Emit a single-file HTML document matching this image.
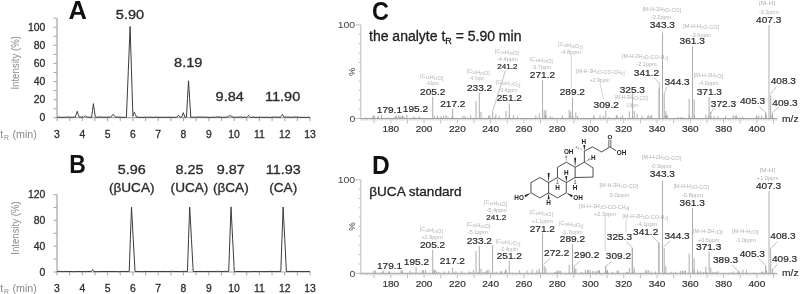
<!DOCTYPE html>
<html><head><meta charset="utf-8"><style>
html,body{margin:0;padding:0;background:#fff;}
body{width:800px;height:294px;overflow:hidden;}
svg{display:block;font-family:"Liberation Sans", sans-serif;filter:blur(0.5px);}
</style></head><body>
<svg width="800" height="294" viewBox="0 0 800 294">
<rect width="800" height="294" fill="#fff"/>
<text x="77.60" y="19.30" font-size="25.5" fill="#111" text-anchor="middle" font-weight="bold">A</text>
<line x1="57.00" y1="18.15" x2="57.00" y2="117.70" stroke="#ababab" stroke-width="1.3"/>
<line x1="53.50" y1="117.70" x2="57.00" y2="117.70" stroke="#ababab" stroke-width="1.1"/>
<line x1="53.50" y1="108.65" x2="57.00" y2="108.65" stroke="#ababab" stroke-width="1.1"/>
<line x1="53.50" y1="99.60" x2="57.00" y2="99.60" stroke="#ababab" stroke-width="1.1"/>
<line x1="53.50" y1="90.55" x2="57.00" y2="90.55" stroke="#ababab" stroke-width="1.1"/>
<line x1="53.50" y1="81.50" x2="57.00" y2="81.50" stroke="#ababab" stroke-width="1.1"/>
<line x1="53.50" y1="72.45" x2="57.00" y2="72.45" stroke="#ababab" stroke-width="1.1"/>
<line x1="53.50" y1="63.40" x2="57.00" y2="63.40" stroke="#ababab" stroke-width="1.1"/>
<line x1="53.50" y1="54.35" x2="57.00" y2="54.35" stroke="#ababab" stroke-width="1.1"/>
<line x1="53.50" y1="45.30" x2="57.00" y2="45.30" stroke="#ababab" stroke-width="1.1"/>
<line x1="53.50" y1="36.25" x2="57.00" y2="36.25" stroke="#ababab" stroke-width="1.1"/>
<line x1="53.50" y1="27.20" x2="57.00" y2="27.20" stroke="#ababab" stroke-width="1.1"/>
<line x1="53.50" y1="18.15" x2="57.00" y2="18.15" stroke="#ababab" stroke-width="1.1"/>
<text x="45.30" y="121.40" font-size="10.4" fill="#2e2e2e" text-anchor="end" stroke="#2e2e2e" stroke-width="0.3">0</text>
<text x="45.30" y="103.30" font-size="10.4" fill="#2e2e2e" text-anchor="end" stroke="#2e2e2e" stroke-width="0.3">20</text>
<text x="45.30" y="85.20" font-size="10.4" fill="#2e2e2e" text-anchor="end" stroke="#2e2e2e" stroke-width="0.3">40</text>
<text x="45.30" y="67.10" font-size="10.4" fill="#2e2e2e" text-anchor="end" stroke="#2e2e2e" stroke-width="0.3">60</text>
<text x="45.30" y="49.00" font-size="10.4" fill="#2e2e2e" text-anchor="end" stroke="#2e2e2e" stroke-width="0.3">80</text>
<text x="45.30" y="30.90" font-size="10.4" fill="#2e2e2e" text-anchor="end" stroke="#2e2e2e" stroke-width="0.3">100</text>
<line x1="57.00" y1="117.70" x2="310.50" y2="117.70" stroke="#ababab" stroke-width="1.2"/>
<line x1="57.00" y1="117.70" x2="57.00" y2="121.00" stroke="#ababab" stroke-width="1.1"/>
<line x1="69.65" y1="117.70" x2="69.65" y2="121.00" stroke="#ababab" stroke-width="1.1"/>
<line x1="82.30" y1="117.70" x2="82.30" y2="121.00" stroke="#ababab" stroke-width="1.1"/>
<line x1="94.95" y1="117.70" x2="94.95" y2="121.00" stroke="#ababab" stroke-width="1.1"/>
<line x1="107.60" y1="117.70" x2="107.60" y2="121.00" stroke="#ababab" stroke-width="1.1"/>
<line x1="120.25" y1="117.70" x2="120.25" y2="121.00" stroke="#ababab" stroke-width="1.1"/>
<line x1="132.90" y1="117.70" x2="132.90" y2="121.00" stroke="#ababab" stroke-width="1.1"/>
<line x1="145.55" y1="117.70" x2="145.55" y2="121.00" stroke="#ababab" stroke-width="1.1"/>
<line x1="158.20" y1="117.70" x2="158.20" y2="121.00" stroke="#ababab" stroke-width="1.1"/>
<line x1="170.85" y1="117.70" x2="170.85" y2="121.00" stroke="#ababab" stroke-width="1.1"/>
<line x1="183.50" y1="117.70" x2="183.50" y2="121.00" stroke="#ababab" stroke-width="1.1"/>
<line x1="196.15" y1="117.70" x2="196.15" y2="121.00" stroke="#ababab" stroke-width="1.1"/>
<line x1="208.80" y1="117.70" x2="208.80" y2="121.00" stroke="#ababab" stroke-width="1.1"/>
<line x1="221.45" y1="117.70" x2="221.45" y2="121.00" stroke="#ababab" stroke-width="1.1"/>
<line x1="234.10" y1="117.70" x2="234.10" y2="121.00" stroke="#ababab" stroke-width="1.1"/>
<line x1="246.75" y1="117.70" x2="246.75" y2="121.00" stroke="#ababab" stroke-width="1.1"/>
<line x1="259.40" y1="117.70" x2="259.40" y2="121.00" stroke="#ababab" stroke-width="1.1"/>
<line x1="272.05" y1="117.70" x2="272.05" y2="121.00" stroke="#ababab" stroke-width="1.1"/>
<line x1="284.70" y1="117.70" x2="284.70" y2="121.00" stroke="#ababab" stroke-width="1.1"/>
<line x1="297.35" y1="117.70" x2="297.35" y2="121.00" stroke="#ababab" stroke-width="1.1"/>
<line x1="310.00" y1="117.70" x2="310.00" y2="121.00" stroke="#ababab" stroke-width="1.1"/>
<text x="57.00" y="137.50" font-size="10.4" fill="#2e2e2e" text-anchor="middle" stroke="#2e2e2e" stroke-width="0.3">3</text>
<text x="82.30" y="137.50" font-size="10.4" fill="#2e2e2e" text-anchor="middle" stroke="#2e2e2e" stroke-width="0.3">4</text>
<text x="107.60" y="137.50" font-size="10.4" fill="#2e2e2e" text-anchor="middle" stroke="#2e2e2e" stroke-width="0.3">5</text>
<text x="132.90" y="137.50" font-size="10.4" fill="#2e2e2e" text-anchor="middle" stroke="#2e2e2e" stroke-width="0.3">6</text>
<text x="158.20" y="137.50" font-size="10.4" fill="#2e2e2e" text-anchor="middle" stroke="#2e2e2e" stroke-width="0.3">7</text>
<text x="183.50" y="137.50" font-size="10.4" fill="#2e2e2e" text-anchor="middle" stroke="#2e2e2e" stroke-width="0.3">8</text>
<text x="208.80" y="137.50" font-size="10.4" fill="#2e2e2e" text-anchor="middle" stroke="#2e2e2e" stroke-width="0.3">9</text>
<text x="234.10" y="137.50" font-size="10.4" fill="#2e2e2e" text-anchor="middle" stroke="#2e2e2e" stroke-width="0.3">10</text>
<text x="259.40" y="137.50" font-size="10.4" fill="#2e2e2e" text-anchor="middle" stroke="#2e2e2e" stroke-width="0.3">11</text>
<text x="284.70" y="137.50" font-size="10.4" fill="#2e2e2e" text-anchor="middle" stroke="#2e2e2e" stroke-width="0.3">12</text>
<text x="310.00" y="137.50" font-size="10.4" fill="#2e2e2e" text-anchor="middle" stroke="#2e2e2e" stroke-width="0.3">13</text>
<text transform="translate(18.5,89.60) rotate(-90)" font-size="10.8" fill="#8a8a8a" textLength="53.6" lengthAdjust="spacingAndGlyphs">Intensity (%)</text>
<text x="0.3" y="137.50" font-size="10.4" fill="#8a8a8a">t</text>
<text x="4.0" y="139.50" font-size="6.8" fill="#8a8a8a">R</text>
<text x="12.4" y="137.50" font-size="10.4" fill="#8a8a8a" textLength="24.4" lengthAdjust="spacingAndGlyphs">(min)</text>
<polyline points="57.00,117.34 58.00,117.18 59.00,117.27 60.00,117.14 61.00,117.13 62.00,117.44 63.00,117.46 64.00,117.02 65.00,117.33 66.00,117.34 67.00,116.93 68.00,117.22 69.00,117.02 70.00,117.21 71.00,117.12 72.00,117.39 73.00,117.13 74.00,117.00 75.00,117.19 75.24,117.07 76.00,114.87 76.24,114.50 77.00,111.88 77.24,111.27 78.00,113.66 78.24,114.51 79.00,116.30 79.24,117.21 80.00,117.08 81.00,116.99 82.00,117.08 83.00,116.97 83.34,117.25 84.00,116.59 84.34,116.55 85.00,115.83 85.34,115.64 86.00,116.51 86.34,116.72 87.00,117.13 87.34,116.95 88.00,117.23 89.00,117.13 90.00,117.31 91.00,117.20 91.60,117.26 92.00,114.30 92.50,110.46 93.00,106.74 93.40,103.59 94.00,107.94 94.35,110.27 95.00,114.89 95.30,116.93 96.00,117.11 97.00,117.38 98.00,117.00 99.00,116.95 100.00,116.98 101.00,117.16 102.00,117.08 103.00,117.36 104.00,117.02 105.00,117.16 106.00,117.32 107.00,117.44 108.00,117.01 109.00,116.93 110.00,117.42 110.67,117.03 111.00,116.89 111.92,116.03 112.00,115.86 113.00,114.52 113.17,114.29 114.00,115.64 114.42,115.78 115.00,116.72 115.67,117.08 116.00,117.29 117.00,116.99 118.00,116.94 119.00,117.20 120.00,116.93 121.00,117.30 122.00,117.43 123.00,117.15 124.00,117.45 125.00,117.36 126.00,117.25 126.40,117.14 127.00,102.71 128.00,78.31 128.25,71.75 129.00,53.71 130.00,28.90 130.10,26.48 131.00,55.86 131.50,71.97 132.00,88.10 132.60,107.43 132.90,116.32 133.00,116.06 133.50,114.65 134.00,113.09 134.40,112.22 135.00,113.62 135.50,114.59 136.00,115.98 136.60,117.31 137.00,116.94 138.00,117.19 139.00,117.17 140.00,117.47 141.00,117.25 142.00,117.16 143.00,117.46 144.00,117.14 145.00,117.13 146.00,117.44 147.00,117.13 148.00,117.22 149.00,117.10 150.00,117.28 151.00,117.09 152.00,117.07 153.00,117.46 154.00,117.44 155.00,117.10 156.00,116.95 157.00,117.34 158.00,117.22 159.00,117.15 160.00,117.30 161.00,117.27 162.00,117.30 163.00,117.27 164.00,117.15 165.00,117.31 166.00,117.27 167.00,117.05 168.00,117.46 169.00,117.16 170.00,117.07 171.00,117.30 172.00,117.35 173.00,117.04 174.00,117.34 175.00,117.37 176.00,117.24 176.44,117.09 177.00,116.91 177.44,116.39 178.00,115.88 178.44,115.21 179.00,115.93 179.44,116.10 180.00,116.98 180.44,117.29 181.00,117.12 181.70,116.99 182.00,116.38 182.50,115.09 183.00,113.73 183.30,112.66 184.00,114.82 184.10,114.77 184.90,117.02 185.00,117.37 186.00,117.32 186.50,117.03 187.00,107.96 187.50,98.71 188.00,89.79 188.50,80.75 189.00,88.63 189.65,98.71 190.00,104.58 190.80,117.28 191.00,117.25 192.00,117.24 193.00,117.25 194.00,116.97 195.00,117.39 196.00,117.47 197.00,116.96 198.00,116.99 199.00,116.94 200.00,117.24 201.00,116.96 202.00,116.97 203.00,117.35 204.00,117.07 205.00,117.02 206.00,117.11 207.00,117.19 208.00,117.31 209.00,117.29 210.00,117.35 211.00,117.43 212.00,117.15 213.00,117.32 214.00,117.03 215.00,117.45 216.00,116.98 217.00,117.09 218.00,116.97 219.00,116.98 220.00,116.98 221.00,117.16 222.00,117.46 223.00,117.07 224.00,117.38 225.00,117.31 226.00,117.11 227.00,117.19 228.00,116.70 228.50,116.15 229.00,116.05 230.00,115.66 231.00,116.25 231.50,116.19 232.00,116.67 233.00,117.05 234.00,117.28 235.00,117.36 236.00,117.18 237.00,117.03 238.00,117.38 239.00,117.04 240.00,116.97 241.00,117.03 242.00,117.02 243.00,117.47 244.00,117.13 245.00,117.00 246.00,117.44 246.70,117.32 247.00,117.08 247.70,116.37 248.00,116.18 248.70,115.59 249.00,115.67 249.70,116.66 250.00,116.87 250.70,117.40 251.00,117.40 252.00,117.43 253.00,116.94 254.00,117.01 255.00,117.42 256.00,117.20 257.00,117.30 258.00,117.30 259.00,117.28 260.00,117.12 261.00,117.15 262.00,117.28 263.00,117.37 264.00,117.29 265.00,117.40 266.00,117.17 267.00,117.08 268.00,117.27 269.00,117.43 270.00,117.37 271.00,117.27 272.00,117.14 273.00,117.05 274.00,117.27 275.00,117.04 276.00,117.13 277.00,117.24 278.00,117.27 279.00,117.20 280.00,117.09 280.60,117.24 281.00,116.45 281.50,115.77 282.00,115.09 282.40,114.28 283.00,115.16 283.30,115.98 284.00,116.92 284.20,117.24 285.00,116.99 286.00,116.96 287.00,117.27 288.00,116.98 289.00,117.04 290.00,117.33 291.00,117.22 292.00,117.40 293.00,117.03 294.00,117.11 295.00,116.99 296.00,117.04 297.00,117.11 298.00,117.07 299.00,117.17 300.00,117.42 301.00,117.15 302.00,117.47 303.00,117.39 304.00,117.05 305.00,117.45 306.00,117.42 307.00,117.42 308.00,116.99 309.00,117.37 310.00,117.46" fill="none" stroke="#3c3c3c" stroke-width="1.0" stroke-linejoin="round"/>
<text transform="translate(130.00,19.40) scale(1.070,1)" font-size="13.6" fill="#2e2e2e" text-anchor="middle" stroke="#2e2e2e" stroke-width="0.35">5.90</text>
<text transform="translate(188.20,66.80) scale(1.070,1)" font-size="13.6" fill="#2e2e2e" text-anchor="middle" stroke="#2e2e2e" stroke-width="0.35">8.19</text>
<text transform="translate(229.70,100.70) scale(1.070,1)" font-size="13.6" fill="#2e2e2e" text-anchor="middle" stroke="#2e2e2e" stroke-width="0.35">9.84</text>
<text transform="translate(282.60,100.70) scale(1.070,1)" font-size="13.6" fill="#2e2e2e" text-anchor="middle" stroke="#2e2e2e" stroke-width="0.35">11.90</text>
<text transform="translate(77.60,173.30) scale(0.900,1)" font-size="25.5" fill="#111" text-anchor="middle" font-weight="bold">B</text>
<line x1="57.00" y1="194.60" x2="57.00" y2="272.00" stroke="#ababab" stroke-width="1.3"/>
<line x1="53.50" y1="272.00" x2="57.00" y2="272.00" stroke="#ababab" stroke-width="1.1"/>
<line x1="53.50" y1="259.10" x2="57.00" y2="259.10" stroke="#ababab" stroke-width="1.1"/>
<line x1="53.50" y1="246.20" x2="57.00" y2="246.20" stroke="#ababab" stroke-width="1.1"/>
<line x1="53.50" y1="233.30" x2="57.00" y2="233.30" stroke="#ababab" stroke-width="1.1"/>
<line x1="53.50" y1="220.40" x2="57.00" y2="220.40" stroke="#ababab" stroke-width="1.1"/>
<line x1="53.50" y1="207.50" x2="57.00" y2="207.50" stroke="#ababab" stroke-width="1.1"/>
<line x1="53.50" y1="194.60" x2="57.00" y2="194.60" stroke="#ababab" stroke-width="1.1"/>
<text x="45.30" y="275.70" font-size="10.4" fill="#2e2e2e" text-anchor="end" stroke="#2e2e2e" stroke-width="0.3">0</text>
<text x="45.30" y="249.90" font-size="10.4" fill="#2e2e2e" text-anchor="end" stroke="#2e2e2e" stroke-width="0.3">40</text>
<text x="45.30" y="224.10" font-size="10.4" fill="#2e2e2e" text-anchor="end" stroke="#2e2e2e" stroke-width="0.3">80</text>
<text x="45.30" y="198.30" font-size="10.4" fill="#2e2e2e" text-anchor="end" stroke="#2e2e2e" stroke-width="0.3">120</text>
<line x1="57.00" y1="272.00" x2="310.50" y2="272.00" stroke="#ababab" stroke-width="1.2"/>
<line x1="57.00" y1="272.00" x2="57.00" y2="275.30" stroke="#ababab" stroke-width="1.1"/>
<line x1="69.65" y1="272.00" x2="69.65" y2="275.30" stroke="#ababab" stroke-width="1.1"/>
<line x1="82.30" y1="272.00" x2="82.30" y2="275.30" stroke="#ababab" stroke-width="1.1"/>
<line x1="94.95" y1="272.00" x2="94.95" y2="275.30" stroke="#ababab" stroke-width="1.1"/>
<line x1="107.60" y1="272.00" x2="107.60" y2="275.30" stroke="#ababab" stroke-width="1.1"/>
<line x1="120.25" y1="272.00" x2="120.25" y2="275.30" stroke="#ababab" stroke-width="1.1"/>
<line x1="132.90" y1="272.00" x2="132.90" y2="275.30" stroke="#ababab" stroke-width="1.1"/>
<line x1="145.55" y1="272.00" x2="145.55" y2="275.30" stroke="#ababab" stroke-width="1.1"/>
<line x1="158.20" y1="272.00" x2="158.20" y2="275.30" stroke="#ababab" stroke-width="1.1"/>
<line x1="170.85" y1="272.00" x2="170.85" y2="275.30" stroke="#ababab" stroke-width="1.1"/>
<line x1="183.50" y1="272.00" x2="183.50" y2="275.30" stroke="#ababab" stroke-width="1.1"/>
<line x1="196.15" y1="272.00" x2="196.15" y2="275.30" stroke="#ababab" stroke-width="1.1"/>
<line x1="208.80" y1="272.00" x2="208.80" y2="275.30" stroke="#ababab" stroke-width="1.1"/>
<line x1="221.45" y1="272.00" x2="221.45" y2="275.30" stroke="#ababab" stroke-width="1.1"/>
<line x1="234.10" y1="272.00" x2="234.10" y2="275.30" stroke="#ababab" stroke-width="1.1"/>
<line x1="246.75" y1="272.00" x2="246.75" y2="275.30" stroke="#ababab" stroke-width="1.1"/>
<line x1="259.40" y1="272.00" x2="259.40" y2="275.30" stroke="#ababab" stroke-width="1.1"/>
<line x1="272.05" y1="272.00" x2="272.05" y2="275.30" stroke="#ababab" stroke-width="1.1"/>
<line x1="284.70" y1="272.00" x2="284.70" y2="275.30" stroke="#ababab" stroke-width="1.1"/>
<line x1="297.35" y1="272.00" x2="297.35" y2="275.30" stroke="#ababab" stroke-width="1.1"/>
<line x1="310.00" y1="272.00" x2="310.00" y2="275.30" stroke="#ababab" stroke-width="1.1"/>
<text x="57.00" y="291.70" font-size="10.4" fill="#2e2e2e" text-anchor="middle" stroke="#2e2e2e" stroke-width="0.3">3</text>
<text x="82.30" y="291.70" font-size="10.4" fill="#2e2e2e" text-anchor="middle" stroke="#2e2e2e" stroke-width="0.3">4</text>
<text x="107.60" y="291.70" font-size="10.4" fill="#2e2e2e" text-anchor="middle" stroke="#2e2e2e" stroke-width="0.3">5</text>
<text x="132.90" y="291.70" font-size="10.4" fill="#2e2e2e" text-anchor="middle" stroke="#2e2e2e" stroke-width="0.3">6</text>
<text x="158.20" y="291.70" font-size="10.4" fill="#2e2e2e" text-anchor="middle" stroke="#2e2e2e" stroke-width="0.3">7</text>
<text x="183.50" y="291.70" font-size="10.4" fill="#2e2e2e" text-anchor="middle" stroke="#2e2e2e" stroke-width="0.3">8</text>
<text x="208.80" y="291.70" font-size="10.4" fill="#2e2e2e" text-anchor="middle" stroke="#2e2e2e" stroke-width="0.3">9</text>
<text x="234.10" y="291.70" font-size="10.4" fill="#2e2e2e" text-anchor="middle" stroke="#2e2e2e" stroke-width="0.3">10</text>
<text x="259.40" y="291.70" font-size="10.4" fill="#2e2e2e" text-anchor="middle" stroke="#2e2e2e" stroke-width="0.3">11</text>
<text x="284.70" y="291.70" font-size="10.4" fill="#2e2e2e" text-anchor="middle" stroke="#2e2e2e" stroke-width="0.3">12</text>
<text x="310.00" y="291.70" font-size="10.4" fill="#2e2e2e" text-anchor="middle" stroke="#2e2e2e" stroke-width="0.3">13</text>
<text transform="translate(18.5,254.80) rotate(-90)" font-size="10.8" fill="#8a8a8a" textLength="53.6" lengthAdjust="spacingAndGlyphs">Intensity (%)</text>
<text x="0.3" y="291.70" font-size="10.4" fill="#8a8a8a">t</text>
<text x="4.0" y="293.70" font-size="6.8" fill="#8a8a8a">R</text>
<text x="12.4" y="291.70" font-size="10.4" fill="#8a8a8a" textLength="24.4" lengthAdjust="spacingAndGlyphs">(min)</text>
<polyline points="57.00,271.45 58.00,271.41 59.00,271.39 60.00,271.33 61.00,271.41 62.00,271.34 63.00,271.68 64.00,271.51 65.00,271.33 66.00,271.44 67.00,271.34 68.00,271.65 69.00,271.51 70.00,271.60 71.00,271.48 72.00,271.47 73.00,271.69 74.00,271.61 75.00,271.59 76.00,271.34 77.00,271.40 78.00,271.63 79.00,271.39 80.00,271.64 81.00,271.45 82.00,271.64 83.00,271.69 84.00,271.36 85.00,271.61 86.00,271.61 87.00,271.31 88.00,271.36 89.00,271.58 90.00,271.32 91.00,271.48 91.50,271.43 92.00,270.81 92.10,270.36 92.70,269.49 93.00,269.87 93.30,270.38 93.90,271.58 94.00,271.55 95.00,271.63 96.00,271.64 97.00,271.67 98.00,271.58 99.00,271.46 100.00,271.69 101.00,271.43 102.00,271.56 103.00,271.57 104.00,271.38 105.00,271.51 106.00,271.57 107.00,271.51 108.00,271.42 109.00,271.67 110.00,271.32 111.00,271.68 112.00,271.40 113.00,271.37 114.00,271.69 115.00,271.39 116.00,271.55 117.00,271.47 118.00,271.69 119.00,271.68 120.00,271.62 121.00,271.32 122.00,271.62 123.00,271.40 124.00,271.33 125.00,271.33 126.00,271.56 127.00,271.56 128.00,271.49 129.00,271.39 129.20,271.65 130.00,248.97 130.35,239.13 131.00,220.88 131.50,207.18 132.00,216.04 133.00,234.80 133.25,239.31 134.00,253.03 135.00,271.34 136.00,271.56 137.00,271.34 138.00,271.48 139.00,271.57 140.00,271.57 141.00,271.62 142.00,271.66 143.00,271.64 144.00,271.43 145.00,271.31 146.00,271.63 147.00,271.67 148.00,271.31 149.00,271.49 150.00,271.54 151.00,271.60 152.00,271.46 153.00,271.37 154.00,271.52 155.00,271.53 156.00,271.67 157.00,271.34 158.00,271.68 159.00,271.50 160.00,271.37 161.00,271.64 162.00,271.41 163.00,271.33 164.00,271.45 165.00,271.39 166.00,271.65 167.00,271.53 168.00,271.64 169.00,271.37 170.00,271.58 171.00,271.52 172.00,271.31 173.00,271.36 174.00,271.32 175.00,271.52 176.00,271.50 177.00,271.41 178.00,271.51 179.00,271.58 180.00,271.54 181.00,271.64 182.00,271.55 183.00,271.31 184.00,271.32 185.00,271.45 186.00,271.50 187.00,271.56 187.40,271.66 188.00,254.76 188.55,239.14 189.00,226.49 189.70,207.05 190.00,212.42 191.00,230.85 191.45,239.17 192.00,249.32 193.00,267.71 193.20,271.55 194.00,271.42 195.00,271.58 196.00,271.51 197.00,271.40 198.00,271.43 199.00,271.58 200.00,271.33 201.00,271.44 202.00,271.47 203.00,271.69 204.00,271.48 205.00,271.60 206.00,271.43 207.00,271.51 208.00,271.38 209.00,271.44 210.00,271.38 211.00,271.56 212.00,271.44 213.00,271.41 214.00,271.37 215.00,271.56 216.00,271.37 217.00,271.36 218.00,271.43 219.00,271.32 220.00,271.32 221.00,271.49 222.00,271.49 223.00,271.63 224.00,271.37 225.00,271.33 226.00,271.51 227.00,271.43 228.00,271.41 228.70,271.41 229.00,263.21 229.85,239.14 230.00,235.01 231.00,206.94 232.00,226.58 232.65,239.20 233.00,245.98 234.00,265.58 234.30,271.41 235.00,271.68 236.00,271.63 237.00,271.52 238.00,271.44 239.00,271.61 240.00,271.43 241.00,271.45 242.00,271.68 243.00,271.51 244.00,271.61 245.00,271.67 246.00,271.64 247.00,271.57 248.00,271.62 249.00,271.62 250.00,271.68 251.00,271.51 252.00,271.55 253.00,271.46 254.00,271.47 255.00,271.60 256.00,271.34 257.00,271.69 258.00,271.54 259.00,271.59 260.00,271.53 261.00,271.65 262.00,271.37 263.00,271.55 264.00,271.68 265.00,271.46 266.00,271.66 267.00,271.48 268.00,271.56 269.00,271.47 270.00,271.32 271.00,271.38 272.00,271.53 273.00,271.38 274.00,271.44 275.00,271.55 276.00,271.64 277.00,271.46 278.00,271.48 279.00,271.32 280.00,271.32 280.80,271.46 281.00,265.95 281.95,239.10 282.00,238.04 283.00,209.96 283.10,206.97 284.00,224.55 284.75,239.39 285.00,244.09 286.00,263.53 286.40,271.55 287.00,271.53 288.00,271.61 289.00,271.58 290.00,271.32 291.00,271.55 292.00,271.32 293.00,271.34 294.00,271.46 295.00,271.59 296.00,271.31 297.00,271.50 298.00,271.53 299.00,271.57 300.00,271.31 301.00,271.50 302.00,271.58 303.00,271.51 304.00,271.65 305.00,271.45 306.00,271.52 307.00,271.58 308.00,271.39 309.00,271.37 310.00,271.69" fill="none" stroke="#3c3c3c" stroke-width="1.0" stroke-linejoin="round"/>
<text transform="translate(131.70,173.80) scale(1.060,1)" font-size="13.6" fill="#2e2e2e" text-anchor="middle" stroke="#2e2e2e" stroke-width="0.35">5.96</text>
<text x="131.70" y="192.00" font-size="13.6" fill="#2e2e2e" text-anchor="middle" stroke="#2e2e2e" stroke-width="0.35">(βUCA)</text>
<text transform="translate(189.50,173.80) scale(1.060,1)" font-size="13.6" fill="#2e2e2e" text-anchor="middle" stroke="#2e2e2e" stroke-width="0.35">8.25</text>
<text x="189.50" y="192.00" font-size="13.6" fill="#2e2e2e" text-anchor="middle" stroke="#2e2e2e" stroke-width="0.35">(UCA)</text>
<text transform="translate(230.80,173.80) scale(1.060,1)" font-size="13.6" fill="#2e2e2e" text-anchor="middle" stroke="#2e2e2e" stroke-width="0.35">9.87</text>
<text x="230.80" y="192.00" font-size="13.6" fill="#2e2e2e" text-anchor="middle" stroke="#2e2e2e" stroke-width="0.35">(βCA)</text>
<text transform="translate(283.20,173.80) scale(1.060,1)" font-size="13.6" fill="#2e2e2e" text-anchor="middle" stroke="#2e2e2e" stroke-width="0.35">11.93</text>
<text x="283.20" y="192.00" font-size="13.6" fill="#2e2e2e" text-anchor="middle" stroke="#2e2e2e" stroke-width="0.35">(CA)</text>
<text transform="translate(380.50,19.50) scale(0.880,1)" font-size="26.5" fill="#111" text-anchor="middle" font-weight="bold">C</text>
<line x1="360.80" y1="24.90" x2="360.80" y2="118.50" stroke="#bbbbbb" stroke-width="1.0"/>
<line x1="355.50" y1="118.50" x2="360.80" y2="118.50" stroke="#b4b4b4" stroke-width="0.9"/>
<line x1="358.80" y1="109.14" x2="360.80" y2="109.14" stroke="#b4b4b4" stroke-width="0.9"/>
<line x1="358.80" y1="99.78" x2="360.80" y2="99.78" stroke="#b4b4b4" stroke-width="0.9"/>
<line x1="358.80" y1="90.42" x2="360.80" y2="90.42" stroke="#b4b4b4" stroke-width="0.9"/>
<line x1="358.80" y1="81.06" x2="360.80" y2="81.06" stroke="#b4b4b4" stroke-width="0.9"/>
<line x1="358.80" y1="71.70" x2="360.80" y2="71.70" stroke="#b4b4b4" stroke-width="0.9"/>
<line x1="358.80" y1="62.34" x2="360.80" y2="62.34" stroke="#b4b4b4" stroke-width="0.9"/>
<line x1="358.80" y1="52.98" x2="360.80" y2="52.98" stroke="#b4b4b4" stroke-width="0.9"/>
<line x1="358.80" y1="43.62" x2="360.80" y2="43.62" stroke="#b4b4b4" stroke-width="0.9"/>
<line x1="358.80" y1="34.26" x2="360.80" y2="34.26" stroke="#b4b4b4" stroke-width="0.9"/>
<line x1="355.50" y1="24.90" x2="360.80" y2="24.90" stroke="#b4b4b4" stroke-width="0.9"/>
<text transform="translate(355.20,28.40) scale(1.080,1)" font-size="9.7" fill="#444" text-anchor="end">100</text>
<text transform="translate(355.30,122.00) scale(1.080,1)" font-size="9.7" fill="#444" text-anchor="end">0</text>
<text transform="translate(355.3,71.70) rotate(-90)" font-size="9.6" fill="#444" text-anchor="middle">%</text>
<line x1="360.80" y1="118.50" x2="777.00" y2="118.50" stroke="#9a9a9a" stroke-width="1.0"/>
<line x1="360.85" y1="118.50" x2="360.85" y2="120.50" stroke="#bcbcbc" stroke-width="0.75"/>
<line x1="362.51" y1="118.50" x2="362.51" y2="120.50" stroke="#bcbcbc" stroke-width="0.75"/>
<line x1="364.18" y1="118.50" x2="364.18" y2="120.50" stroke="#bcbcbc" stroke-width="0.75"/>
<line x1="365.84" y1="118.50" x2="365.84" y2="120.50" stroke="#bcbcbc" stroke-width="0.75"/>
<line x1="367.50" y1="118.50" x2="367.50" y2="120.50" stroke="#bcbcbc" stroke-width="0.75"/>
<line x1="369.17" y1="118.50" x2="369.17" y2="120.50" stroke="#bcbcbc" stroke-width="0.75"/>
<line x1="370.83" y1="118.50" x2="370.83" y2="120.50" stroke="#bcbcbc" stroke-width="0.75"/>
<line x1="372.50" y1="118.50" x2="372.50" y2="120.50" stroke="#bcbcbc" stroke-width="0.75"/>
<line x1="374.16" y1="118.50" x2="374.16" y2="123.30" stroke="#a8a8a8" stroke-width="0.75"/>
<line x1="375.82" y1="118.50" x2="375.82" y2="120.50" stroke="#bcbcbc" stroke-width="0.75"/>
<line x1="377.49" y1="118.50" x2="377.49" y2="120.50" stroke="#bcbcbc" stroke-width="0.75"/>
<line x1="379.15" y1="118.50" x2="379.15" y2="120.50" stroke="#bcbcbc" stroke-width="0.75"/>
<line x1="380.82" y1="118.50" x2="380.82" y2="120.50" stroke="#bcbcbc" stroke-width="0.75"/>
<line x1="382.48" y1="118.50" x2="382.48" y2="120.50" stroke="#bcbcbc" stroke-width="0.75"/>
<line x1="384.14" y1="118.50" x2="384.14" y2="120.50" stroke="#bcbcbc" stroke-width="0.75"/>
<line x1="385.81" y1="118.50" x2="385.81" y2="120.50" stroke="#bcbcbc" stroke-width="0.75"/>
<line x1="387.47" y1="118.50" x2="387.47" y2="120.50" stroke="#bcbcbc" stroke-width="0.75"/>
<line x1="389.14" y1="118.50" x2="389.14" y2="120.50" stroke="#bcbcbc" stroke-width="0.75"/>
<line x1="390.80" y1="118.50" x2="390.80" y2="123.30" stroke="#a8a8a8" stroke-width="0.75"/>
<line x1="392.46" y1="118.50" x2="392.46" y2="120.50" stroke="#bcbcbc" stroke-width="0.75"/>
<line x1="394.13" y1="118.50" x2="394.13" y2="120.50" stroke="#bcbcbc" stroke-width="0.75"/>
<line x1="395.79" y1="118.50" x2="395.79" y2="120.50" stroke="#bcbcbc" stroke-width="0.75"/>
<line x1="397.46" y1="118.50" x2="397.46" y2="120.50" stroke="#bcbcbc" stroke-width="0.75"/>
<line x1="399.12" y1="118.50" x2="399.12" y2="120.50" stroke="#bcbcbc" stroke-width="0.75"/>
<line x1="400.78" y1="118.50" x2="400.78" y2="120.50" stroke="#bcbcbc" stroke-width="0.75"/>
<line x1="402.45" y1="118.50" x2="402.45" y2="120.50" stroke="#bcbcbc" stroke-width="0.75"/>
<line x1="404.11" y1="118.50" x2="404.11" y2="120.50" stroke="#bcbcbc" stroke-width="0.75"/>
<line x1="405.78" y1="118.50" x2="405.78" y2="120.50" stroke="#bcbcbc" stroke-width="0.75"/>
<line x1="407.44" y1="118.50" x2="407.44" y2="123.30" stroke="#a8a8a8" stroke-width="0.75"/>
<line x1="409.10" y1="118.50" x2="409.10" y2="120.50" stroke="#bcbcbc" stroke-width="0.75"/>
<line x1="410.77" y1="118.50" x2="410.77" y2="120.50" stroke="#bcbcbc" stroke-width="0.75"/>
<line x1="412.43" y1="118.50" x2="412.43" y2="120.50" stroke="#bcbcbc" stroke-width="0.75"/>
<line x1="414.10" y1="118.50" x2="414.10" y2="120.50" stroke="#bcbcbc" stroke-width="0.75"/>
<line x1="415.76" y1="118.50" x2="415.76" y2="120.50" stroke="#bcbcbc" stroke-width="0.75"/>
<line x1="417.42" y1="118.50" x2="417.42" y2="120.50" stroke="#bcbcbc" stroke-width="0.75"/>
<line x1="419.09" y1="118.50" x2="419.09" y2="120.50" stroke="#bcbcbc" stroke-width="0.75"/>
<line x1="420.75" y1="118.50" x2="420.75" y2="120.50" stroke="#bcbcbc" stroke-width="0.75"/>
<line x1="422.42" y1="118.50" x2="422.42" y2="120.50" stroke="#bcbcbc" stroke-width="0.75"/>
<line x1="424.08" y1="118.50" x2="424.08" y2="123.30" stroke="#a8a8a8" stroke-width="0.75"/>
<line x1="425.74" y1="118.50" x2="425.74" y2="120.50" stroke="#bcbcbc" stroke-width="0.75"/>
<line x1="427.41" y1="118.50" x2="427.41" y2="120.50" stroke="#bcbcbc" stroke-width="0.75"/>
<line x1="429.07" y1="118.50" x2="429.07" y2="120.50" stroke="#bcbcbc" stroke-width="0.75"/>
<line x1="430.74" y1="118.50" x2="430.74" y2="120.50" stroke="#bcbcbc" stroke-width="0.75"/>
<line x1="432.40" y1="118.50" x2="432.40" y2="120.50" stroke="#bcbcbc" stroke-width="0.75"/>
<line x1="434.06" y1="118.50" x2="434.06" y2="120.50" stroke="#bcbcbc" stroke-width="0.75"/>
<line x1="435.73" y1="118.50" x2="435.73" y2="120.50" stroke="#bcbcbc" stroke-width="0.75"/>
<line x1="437.39" y1="118.50" x2="437.39" y2="120.50" stroke="#bcbcbc" stroke-width="0.75"/>
<line x1="439.06" y1="118.50" x2="439.06" y2="120.50" stroke="#bcbcbc" stroke-width="0.75"/>
<line x1="440.72" y1="118.50" x2="440.72" y2="123.30" stroke="#a8a8a8" stroke-width="0.75"/>
<line x1="442.38" y1="118.50" x2="442.38" y2="120.50" stroke="#bcbcbc" stroke-width="0.75"/>
<line x1="444.05" y1="118.50" x2="444.05" y2="120.50" stroke="#bcbcbc" stroke-width="0.75"/>
<line x1="445.71" y1="118.50" x2="445.71" y2="120.50" stroke="#bcbcbc" stroke-width="0.75"/>
<line x1="447.38" y1="118.50" x2="447.38" y2="120.50" stroke="#bcbcbc" stroke-width="0.75"/>
<line x1="449.04" y1="118.50" x2="449.04" y2="120.50" stroke="#bcbcbc" stroke-width="0.75"/>
<line x1="450.70" y1="118.50" x2="450.70" y2="120.50" stroke="#bcbcbc" stroke-width="0.75"/>
<line x1="452.37" y1="118.50" x2="452.37" y2="120.50" stroke="#bcbcbc" stroke-width="0.75"/>
<line x1="454.03" y1="118.50" x2="454.03" y2="120.50" stroke="#bcbcbc" stroke-width="0.75"/>
<line x1="455.70" y1="118.50" x2="455.70" y2="120.50" stroke="#bcbcbc" stroke-width="0.75"/>
<line x1="457.36" y1="118.50" x2="457.36" y2="123.30" stroke="#a8a8a8" stroke-width="0.75"/>
<line x1="459.02" y1="118.50" x2="459.02" y2="120.50" stroke="#bcbcbc" stroke-width="0.75"/>
<line x1="460.69" y1="118.50" x2="460.69" y2="120.50" stroke="#bcbcbc" stroke-width="0.75"/>
<line x1="462.35" y1="118.50" x2="462.35" y2="120.50" stroke="#bcbcbc" stroke-width="0.75"/>
<line x1="464.02" y1="118.50" x2="464.02" y2="120.50" stroke="#bcbcbc" stroke-width="0.75"/>
<line x1="465.68" y1="118.50" x2="465.68" y2="120.50" stroke="#bcbcbc" stroke-width="0.75"/>
<line x1="467.34" y1="118.50" x2="467.34" y2="120.50" stroke="#bcbcbc" stroke-width="0.75"/>
<line x1="469.01" y1="118.50" x2="469.01" y2="120.50" stroke="#bcbcbc" stroke-width="0.75"/>
<line x1="470.67" y1="118.50" x2="470.67" y2="120.50" stroke="#bcbcbc" stroke-width="0.75"/>
<line x1="472.34" y1="118.50" x2="472.34" y2="120.50" stroke="#bcbcbc" stroke-width="0.75"/>
<line x1="474.00" y1="118.50" x2="474.00" y2="123.30" stroke="#a8a8a8" stroke-width="0.75"/>
<line x1="475.66" y1="118.50" x2="475.66" y2="120.50" stroke="#bcbcbc" stroke-width="0.75"/>
<line x1="477.33" y1="118.50" x2="477.33" y2="120.50" stroke="#bcbcbc" stroke-width="0.75"/>
<line x1="478.99" y1="118.50" x2="478.99" y2="120.50" stroke="#bcbcbc" stroke-width="0.75"/>
<line x1="480.66" y1="118.50" x2="480.66" y2="120.50" stroke="#bcbcbc" stroke-width="0.75"/>
<line x1="482.32" y1="118.50" x2="482.32" y2="120.50" stroke="#bcbcbc" stroke-width="0.75"/>
<line x1="483.98" y1="118.50" x2="483.98" y2="120.50" stroke="#bcbcbc" stroke-width="0.75"/>
<line x1="485.65" y1="118.50" x2="485.65" y2="120.50" stroke="#bcbcbc" stroke-width="0.75"/>
<line x1="487.31" y1="118.50" x2="487.31" y2="120.50" stroke="#bcbcbc" stroke-width="0.75"/>
<line x1="488.98" y1="118.50" x2="488.98" y2="120.50" stroke="#bcbcbc" stroke-width="0.75"/>
<line x1="490.64" y1="118.50" x2="490.64" y2="123.30" stroke="#a8a8a8" stroke-width="0.75"/>
<line x1="492.30" y1="118.50" x2="492.30" y2="120.50" stroke="#bcbcbc" stroke-width="0.75"/>
<line x1="493.97" y1="118.50" x2="493.97" y2="120.50" stroke="#bcbcbc" stroke-width="0.75"/>
<line x1="495.63" y1="118.50" x2="495.63" y2="120.50" stroke="#bcbcbc" stroke-width="0.75"/>
<line x1="497.30" y1="118.50" x2="497.30" y2="120.50" stroke="#bcbcbc" stroke-width="0.75"/>
<line x1="498.96" y1="118.50" x2="498.96" y2="120.50" stroke="#bcbcbc" stroke-width="0.75"/>
<line x1="500.62" y1="118.50" x2="500.62" y2="120.50" stroke="#bcbcbc" stroke-width="0.75"/>
<line x1="502.29" y1="118.50" x2="502.29" y2="120.50" stroke="#bcbcbc" stroke-width="0.75"/>
<line x1="503.95" y1="118.50" x2="503.95" y2="120.50" stroke="#bcbcbc" stroke-width="0.75"/>
<line x1="505.62" y1="118.50" x2="505.62" y2="120.50" stroke="#bcbcbc" stroke-width="0.75"/>
<line x1="507.28" y1="118.50" x2="507.28" y2="123.30" stroke="#a8a8a8" stroke-width="0.75"/>
<line x1="508.94" y1="118.50" x2="508.94" y2="120.50" stroke="#bcbcbc" stroke-width="0.75"/>
<line x1="510.61" y1="118.50" x2="510.61" y2="120.50" stroke="#bcbcbc" stroke-width="0.75"/>
<line x1="512.27" y1="118.50" x2="512.27" y2="120.50" stroke="#bcbcbc" stroke-width="0.75"/>
<line x1="513.94" y1="118.50" x2="513.94" y2="120.50" stroke="#bcbcbc" stroke-width="0.75"/>
<line x1="515.60" y1="118.50" x2="515.60" y2="120.50" stroke="#bcbcbc" stroke-width="0.75"/>
<line x1="517.26" y1="118.50" x2="517.26" y2="120.50" stroke="#bcbcbc" stroke-width="0.75"/>
<line x1="518.93" y1="118.50" x2="518.93" y2="120.50" stroke="#bcbcbc" stroke-width="0.75"/>
<line x1="520.59" y1="118.50" x2="520.59" y2="120.50" stroke="#bcbcbc" stroke-width="0.75"/>
<line x1="522.26" y1="118.50" x2="522.26" y2="120.50" stroke="#bcbcbc" stroke-width="0.75"/>
<line x1="523.92" y1="118.50" x2="523.92" y2="123.30" stroke="#a8a8a8" stroke-width="0.75"/>
<line x1="525.58" y1="118.50" x2="525.58" y2="120.50" stroke="#bcbcbc" stroke-width="0.75"/>
<line x1="527.25" y1="118.50" x2="527.25" y2="120.50" stroke="#bcbcbc" stroke-width="0.75"/>
<line x1="528.91" y1="118.50" x2="528.91" y2="120.50" stroke="#bcbcbc" stroke-width="0.75"/>
<line x1="530.58" y1="118.50" x2="530.58" y2="120.50" stroke="#bcbcbc" stroke-width="0.75"/>
<line x1="532.24" y1="118.50" x2="532.24" y2="120.50" stroke="#bcbcbc" stroke-width="0.75"/>
<line x1="533.90" y1="118.50" x2="533.90" y2="120.50" stroke="#bcbcbc" stroke-width="0.75"/>
<line x1="535.57" y1="118.50" x2="535.57" y2="120.50" stroke="#bcbcbc" stroke-width="0.75"/>
<line x1="537.23" y1="118.50" x2="537.23" y2="120.50" stroke="#bcbcbc" stroke-width="0.75"/>
<line x1="538.90" y1="118.50" x2="538.90" y2="120.50" stroke="#bcbcbc" stroke-width="0.75"/>
<line x1="540.56" y1="118.50" x2="540.56" y2="123.30" stroke="#a8a8a8" stroke-width="0.75"/>
<line x1="542.22" y1="118.50" x2="542.22" y2="120.50" stroke="#bcbcbc" stroke-width="0.75"/>
<line x1="543.89" y1="118.50" x2="543.89" y2="120.50" stroke="#bcbcbc" stroke-width="0.75"/>
<line x1="545.55" y1="118.50" x2="545.55" y2="120.50" stroke="#bcbcbc" stroke-width="0.75"/>
<line x1="547.22" y1="118.50" x2="547.22" y2="120.50" stroke="#bcbcbc" stroke-width="0.75"/>
<line x1="548.88" y1="118.50" x2="548.88" y2="120.50" stroke="#bcbcbc" stroke-width="0.75"/>
<line x1="550.54" y1="118.50" x2="550.54" y2="120.50" stroke="#bcbcbc" stroke-width="0.75"/>
<line x1="552.21" y1="118.50" x2="552.21" y2="120.50" stroke="#bcbcbc" stroke-width="0.75"/>
<line x1="553.87" y1="118.50" x2="553.87" y2="120.50" stroke="#bcbcbc" stroke-width="0.75"/>
<line x1="555.54" y1="118.50" x2="555.54" y2="120.50" stroke="#bcbcbc" stroke-width="0.75"/>
<line x1="557.20" y1="118.50" x2="557.20" y2="123.30" stroke="#a8a8a8" stroke-width="0.75"/>
<line x1="558.86" y1="118.50" x2="558.86" y2="120.50" stroke="#bcbcbc" stroke-width="0.75"/>
<line x1="560.53" y1="118.50" x2="560.53" y2="120.50" stroke="#bcbcbc" stroke-width="0.75"/>
<line x1="562.19" y1="118.50" x2="562.19" y2="120.50" stroke="#bcbcbc" stroke-width="0.75"/>
<line x1="563.86" y1="118.50" x2="563.86" y2="120.50" stroke="#bcbcbc" stroke-width="0.75"/>
<line x1="565.52" y1="118.50" x2="565.52" y2="120.50" stroke="#bcbcbc" stroke-width="0.75"/>
<line x1="567.18" y1="118.50" x2="567.18" y2="120.50" stroke="#bcbcbc" stroke-width="0.75"/>
<line x1="568.85" y1="118.50" x2="568.85" y2="120.50" stroke="#bcbcbc" stroke-width="0.75"/>
<line x1="570.51" y1="118.50" x2="570.51" y2="120.50" stroke="#bcbcbc" stroke-width="0.75"/>
<line x1="572.18" y1="118.50" x2="572.18" y2="120.50" stroke="#bcbcbc" stroke-width="0.75"/>
<line x1="573.84" y1="118.50" x2="573.84" y2="123.30" stroke="#a8a8a8" stroke-width="0.75"/>
<line x1="575.50" y1="118.50" x2="575.50" y2="120.50" stroke="#bcbcbc" stroke-width="0.75"/>
<line x1="577.17" y1="118.50" x2="577.17" y2="120.50" stroke="#bcbcbc" stroke-width="0.75"/>
<line x1="578.83" y1="118.50" x2="578.83" y2="120.50" stroke="#bcbcbc" stroke-width="0.75"/>
<line x1="580.50" y1="118.50" x2="580.50" y2="120.50" stroke="#bcbcbc" stroke-width="0.75"/>
<line x1="582.16" y1="118.50" x2="582.16" y2="120.50" stroke="#bcbcbc" stroke-width="0.75"/>
<line x1="583.82" y1="118.50" x2="583.82" y2="120.50" stroke="#bcbcbc" stroke-width="0.75"/>
<line x1="585.49" y1="118.50" x2="585.49" y2="120.50" stroke="#bcbcbc" stroke-width="0.75"/>
<line x1="587.15" y1="118.50" x2="587.15" y2="120.50" stroke="#bcbcbc" stroke-width="0.75"/>
<line x1="588.82" y1="118.50" x2="588.82" y2="120.50" stroke="#bcbcbc" stroke-width="0.75"/>
<line x1="590.48" y1="118.50" x2="590.48" y2="123.30" stroke="#a8a8a8" stroke-width="0.75"/>
<line x1="592.14" y1="118.50" x2="592.14" y2="120.50" stroke="#bcbcbc" stroke-width="0.75"/>
<line x1="593.81" y1="118.50" x2="593.81" y2="120.50" stroke="#bcbcbc" stroke-width="0.75"/>
<line x1="595.47" y1="118.50" x2="595.47" y2="120.50" stroke="#bcbcbc" stroke-width="0.75"/>
<line x1="597.14" y1="118.50" x2="597.14" y2="120.50" stroke="#bcbcbc" stroke-width="0.75"/>
<line x1="598.80" y1="118.50" x2="598.80" y2="120.50" stroke="#bcbcbc" stroke-width="0.75"/>
<line x1="600.46" y1="118.50" x2="600.46" y2="120.50" stroke="#bcbcbc" stroke-width="0.75"/>
<line x1="602.13" y1="118.50" x2="602.13" y2="120.50" stroke="#bcbcbc" stroke-width="0.75"/>
<line x1="603.79" y1="118.50" x2="603.79" y2="120.50" stroke="#bcbcbc" stroke-width="0.75"/>
<line x1="605.46" y1="118.50" x2="605.46" y2="120.50" stroke="#bcbcbc" stroke-width="0.75"/>
<line x1="607.12" y1="118.50" x2="607.12" y2="123.30" stroke="#a8a8a8" stroke-width="0.75"/>
<line x1="608.78" y1="118.50" x2="608.78" y2="120.50" stroke="#bcbcbc" stroke-width="0.75"/>
<line x1="610.45" y1="118.50" x2="610.45" y2="120.50" stroke="#bcbcbc" stroke-width="0.75"/>
<line x1="612.11" y1="118.50" x2="612.11" y2="120.50" stroke="#bcbcbc" stroke-width="0.75"/>
<line x1="613.78" y1="118.50" x2="613.78" y2="120.50" stroke="#bcbcbc" stroke-width="0.75"/>
<line x1="615.44" y1="118.50" x2="615.44" y2="120.50" stroke="#bcbcbc" stroke-width="0.75"/>
<line x1="617.10" y1="118.50" x2="617.10" y2="120.50" stroke="#bcbcbc" stroke-width="0.75"/>
<line x1="618.77" y1="118.50" x2="618.77" y2="120.50" stroke="#bcbcbc" stroke-width="0.75"/>
<line x1="620.43" y1="118.50" x2="620.43" y2="120.50" stroke="#bcbcbc" stroke-width="0.75"/>
<line x1="622.10" y1="118.50" x2="622.10" y2="120.50" stroke="#bcbcbc" stroke-width="0.75"/>
<line x1="623.76" y1="118.50" x2="623.76" y2="123.30" stroke="#a8a8a8" stroke-width="0.75"/>
<line x1="625.42" y1="118.50" x2="625.42" y2="120.50" stroke="#bcbcbc" stroke-width="0.75"/>
<line x1="627.09" y1="118.50" x2="627.09" y2="120.50" stroke="#bcbcbc" stroke-width="0.75"/>
<line x1="628.75" y1="118.50" x2="628.75" y2="120.50" stroke="#bcbcbc" stroke-width="0.75"/>
<line x1="630.42" y1="118.50" x2="630.42" y2="120.50" stroke="#bcbcbc" stroke-width="0.75"/>
<line x1="632.08" y1="118.50" x2="632.08" y2="120.50" stroke="#bcbcbc" stroke-width="0.75"/>
<line x1="633.74" y1="118.50" x2="633.74" y2="120.50" stroke="#bcbcbc" stroke-width="0.75"/>
<line x1="635.41" y1="118.50" x2="635.41" y2="120.50" stroke="#bcbcbc" stroke-width="0.75"/>
<line x1="637.07" y1="118.50" x2="637.07" y2="120.50" stroke="#bcbcbc" stroke-width="0.75"/>
<line x1="638.74" y1="118.50" x2="638.74" y2="120.50" stroke="#bcbcbc" stroke-width="0.75"/>
<line x1="640.40" y1="118.50" x2="640.40" y2="123.30" stroke="#a8a8a8" stroke-width="0.75"/>
<line x1="642.06" y1="118.50" x2="642.06" y2="120.50" stroke="#bcbcbc" stroke-width="0.75"/>
<line x1="643.73" y1="118.50" x2="643.73" y2="120.50" stroke="#bcbcbc" stroke-width="0.75"/>
<line x1="645.39" y1="118.50" x2="645.39" y2="120.50" stroke="#bcbcbc" stroke-width="0.75"/>
<line x1="647.06" y1="118.50" x2="647.06" y2="120.50" stroke="#bcbcbc" stroke-width="0.75"/>
<line x1="648.72" y1="118.50" x2="648.72" y2="120.50" stroke="#bcbcbc" stroke-width="0.75"/>
<line x1="650.38" y1="118.50" x2="650.38" y2="120.50" stroke="#bcbcbc" stroke-width="0.75"/>
<line x1="652.05" y1="118.50" x2="652.05" y2="120.50" stroke="#bcbcbc" stroke-width="0.75"/>
<line x1="653.71" y1="118.50" x2="653.71" y2="120.50" stroke="#bcbcbc" stroke-width="0.75"/>
<line x1="655.38" y1="118.50" x2="655.38" y2="120.50" stroke="#bcbcbc" stroke-width="0.75"/>
<line x1="657.04" y1="118.50" x2="657.04" y2="123.30" stroke="#a8a8a8" stroke-width="0.75"/>
<line x1="658.70" y1="118.50" x2="658.70" y2="120.50" stroke="#bcbcbc" stroke-width="0.75"/>
<line x1="660.37" y1="118.50" x2="660.37" y2="120.50" stroke="#bcbcbc" stroke-width="0.75"/>
<line x1="662.03" y1="118.50" x2="662.03" y2="120.50" stroke="#bcbcbc" stroke-width="0.75"/>
<line x1="663.70" y1="118.50" x2="663.70" y2="120.50" stroke="#bcbcbc" stroke-width="0.75"/>
<line x1="665.36" y1="118.50" x2="665.36" y2="120.50" stroke="#bcbcbc" stroke-width="0.75"/>
<line x1="667.02" y1="118.50" x2="667.02" y2="120.50" stroke="#bcbcbc" stroke-width="0.75"/>
<line x1="668.69" y1="118.50" x2="668.69" y2="120.50" stroke="#bcbcbc" stroke-width="0.75"/>
<line x1="670.35" y1="118.50" x2="670.35" y2="120.50" stroke="#bcbcbc" stroke-width="0.75"/>
<line x1="672.02" y1="118.50" x2="672.02" y2="120.50" stroke="#bcbcbc" stroke-width="0.75"/>
<line x1="673.68" y1="118.50" x2="673.68" y2="123.30" stroke="#a8a8a8" stroke-width="0.75"/>
<line x1="675.34" y1="118.50" x2="675.34" y2="120.50" stroke="#bcbcbc" stroke-width="0.75"/>
<line x1="677.01" y1="118.50" x2="677.01" y2="120.50" stroke="#bcbcbc" stroke-width="0.75"/>
<line x1="678.67" y1="118.50" x2="678.67" y2="120.50" stroke="#bcbcbc" stroke-width="0.75"/>
<line x1="680.34" y1="118.50" x2="680.34" y2="120.50" stroke="#bcbcbc" stroke-width="0.75"/>
<line x1="682.00" y1="118.50" x2="682.00" y2="120.50" stroke="#bcbcbc" stroke-width="0.75"/>
<line x1="683.66" y1="118.50" x2="683.66" y2="120.50" stroke="#bcbcbc" stroke-width="0.75"/>
<line x1="685.33" y1="118.50" x2="685.33" y2="120.50" stroke="#bcbcbc" stroke-width="0.75"/>
<line x1="686.99" y1="118.50" x2="686.99" y2="120.50" stroke="#bcbcbc" stroke-width="0.75"/>
<line x1="688.66" y1="118.50" x2="688.66" y2="120.50" stroke="#bcbcbc" stroke-width="0.75"/>
<line x1="690.32" y1="118.50" x2="690.32" y2="123.30" stroke="#a8a8a8" stroke-width="0.75"/>
<line x1="691.98" y1="118.50" x2="691.98" y2="120.50" stroke="#bcbcbc" stroke-width="0.75"/>
<line x1="693.65" y1="118.50" x2="693.65" y2="120.50" stroke="#bcbcbc" stroke-width="0.75"/>
<line x1="695.31" y1="118.50" x2="695.31" y2="120.50" stroke="#bcbcbc" stroke-width="0.75"/>
<line x1="696.98" y1="118.50" x2="696.98" y2="120.50" stroke="#bcbcbc" stroke-width="0.75"/>
<line x1="698.64" y1="118.50" x2="698.64" y2="120.50" stroke="#bcbcbc" stroke-width="0.75"/>
<line x1="700.30" y1="118.50" x2="700.30" y2="120.50" stroke="#bcbcbc" stroke-width="0.75"/>
<line x1="701.97" y1="118.50" x2="701.97" y2="120.50" stroke="#bcbcbc" stroke-width="0.75"/>
<line x1="703.63" y1="118.50" x2="703.63" y2="120.50" stroke="#bcbcbc" stroke-width="0.75"/>
<line x1="705.30" y1="118.50" x2="705.30" y2="120.50" stroke="#bcbcbc" stroke-width="0.75"/>
<line x1="706.96" y1="118.50" x2="706.96" y2="123.30" stroke="#a8a8a8" stroke-width="0.75"/>
<line x1="708.62" y1="118.50" x2="708.62" y2="120.50" stroke="#bcbcbc" stroke-width="0.75"/>
<line x1="710.29" y1="118.50" x2="710.29" y2="120.50" stroke="#bcbcbc" stroke-width="0.75"/>
<line x1="711.95" y1="118.50" x2="711.95" y2="120.50" stroke="#bcbcbc" stroke-width="0.75"/>
<line x1="713.62" y1="118.50" x2="713.62" y2="120.50" stroke="#bcbcbc" stroke-width="0.75"/>
<line x1="715.28" y1="118.50" x2="715.28" y2="120.50" stroke="#bcbcbc" stroke-width="0.75"/>
<line x1="716.94" y1="118.50" x2="716.94" y2="120.50" stroke="#bcbcbc" stroke-width="0.75"/>
<line x1="718.61" y1="118.50" x2="718.61" y2="120.50" stroke="#bcbcbc" stroke-width="0.75"/>
<line x1="720.27" y1="118.50" x2="720.27" y2="120.50" stroke="#bcbcbc" stroke-width="0.75"/>
<line x1="721.94" y1="118.50" x2="721.94" y2="120.50" stroke="#bcbcbc" stroke-width="0.75"/>
<line x1="723.60" y1="118.50" x2="723.60" y2="123.30" stroke="#a8a8a8" stroke-width="0.75"/>
<line x1="725.26" y1="118.50" x2="725.26" y2="120.50" stroke="#bcbcbc" stroke-width="0.75"/>
<line x1="726.93" y1="118.50" x2="726.93" y2="120.50" stroke="#bcbcbc" stroke-width="0.75"/>
<line x1="728.59" y1="118.50" x2="728.59" y2="120.50" stroke="#bcbcbc" stroke-width="0.75"/>
<line x1="730.26" y1="118.50" x2="730.26" y2="120.50" stroke="#bcbcbc" stroke-width="0.75"/>
<line x1="731.92" y1="118.50" x2="731.92" y2="120.50" stroke="#bcbcbc" stroke-width="0.75"/>
<line x1="733.58" y1="118.50" x2="733.58" y2="120.50" stroke="#bcbcbc" stroke-width="0.75"/>
<line x1="735.25" y1="118.50" x2="735.25" y2="120.50" stroke="#bcbcbc" stroke-width="0.75"/>
<line x1="736.91" y1="118.50" x2="736.91" y2="120.50" stroke="#bcbcbc" stroke-width="0.75"/>
<line x1="738.58" y1="118.50" x2="738.58" y2="120.50" stroke="#bcbcbc" stroke-width="0.75"/>
<line x1="740.24" y1="118.50" x2="740.24" y2="123.30" stroke="#a8a8a8" stroke-width="0.75"/>
<line x1="741.90" y1="118.50" x2="741.90" y2="120.50" stroke="#bcbcbc" stroke-width="0.75"/>
<line x1="743.57" y1="118.50" x2="743.57" y2="120.50" stroke="#bcbcbc" stroke-width="0.75"/>
<line x1="745.23" y1="118.50" x2="745.23" y2="120.50" stroke="#bcbcbc" stroke-width="0.75"/>
<line x1="746.90" y1="118.50" x2="746.90" y2="120.50" stroke="#bcbcbc" stroke-width="0.75"/>
<line x1="748.56" y1="118.50" x2="748.56" y2="120.50" stroke="#bcbcbc" stroke-width="0.75"/>
<line x1="750.22" y1="118.50" x2="750.22" y2="120.50" stroke="#bcbcbc" stroke-width="0.75"/>
<line x1="751.89" y1="118.50" x2="751.89" y2="120.50" stroke="#bcbcbc" stroke-width="0.75"/>
<line x1="753.55" y1="118.50" x2="753.55" y2="120.50" stroke="#bcbcbc" stroke-width="0.75"/>
<line x1="755.22" y1="118.50" x2="755.22" y2="120.50" stroke="#bcbcbc" stroke-width="0.75"/>
<line x1="756.88" y1="118.50" x2="756.88" y2="123.30" stroke="#a8a8a8" stroke-width="0.75"/>
<line x1="758.54" y1="118.50" x2="758.54" y2="120.50" stroke="#bcbcbc" stroke-width="0.75"/>
<line x1="760.21" y1="118.50" x2="760.21" y2="120.50" stroke="#bcbcbc" stroke-width="0.75"/>
<line x1="761.87" y1="118.50" x2="761.87" y2="120.50" stroke="#bcbcbc" stroke-width="0.75"/>
<line x1="763.54" y1="118.50" x2="763.54" y2="120.50" stroke="#bcbcbc" stroke-width="0.75"/>
<line x1="765.20" y1="118.50" x2="765.20" y2="120.50" stroke="#bcbcbc" stroke-width="0.75"/>
<line x1="766.86" y1="118.50" x2="766.86" y2="120.50" stroke="#bcbcbc" stroke-width="0.75"/>
<line x1="768.53" y1="118.50" x2="768.53" y2="120.50" stroke="#bcbcbc" stroke-width="0.75"/>
<line x1="770.19" y1="118.50" x2="770.19" y2="120.50" stroke="#bcbcbc" stroke-width="0.75"/>
<line x1="771.86" y1="118.50" x2="771.86" y2="120.50" stroke="#bcbcbc" stroke-width="0.75"/>
<line x1="773.52" y1="118.50" x2="773.52" y2="123.30" stroke="#a8a8a8" stroke-width="0.75"/>
<line x1="775.18" y1="118.50" x2="775.18" y2="120.50" stroke="#bcbcbc" stroke-width="0.75"/>
<line x1="776.85" y1="118.50" x2="776.85" y2="120.50" stroke="#bcbcbc" stroke-width="0.75"/>
<text transform="translate(390.80,131.80) scale(1.050,1)" font-size="9.6" fill="#333" text-anchor="middle" stroke="#333" stroke-width="0.2">180</text>
<text transform="translate(424.08,131.80) scale(1.050,1)" font-size="9.6" fill="#333" text-anchor="middle" stroke="#333" stroke-width="0.2">200</text>
<text transform="translate(457.36,131.80) scale(1.050,1)" font-size="9.6" fill="#333" text-anchor="middle" stroke="#333" stroke-width="0.2">220</text>
<text transform="translate(490.64,131.80) scale(1.050,1)" font-size="9.6" fill="#333" text-anchor="middle" stroke="#333" stroke-width="0.2">240</text>
<text transform="translate(523.92,131.80) scale(1.050,1)" font-size="9.6" fill="#333" text-anchor="middle" stroke="#333" stroke-width="0.2">260</text>
<text transform="translate(557.20,131.80) scale(1.050,1)" font-size="9.6" fill="#333" text-anchor="middle" stroke="#333" stroke-width="0.2">280</text>
<text transform="translate(590.48,131.80) scale(1.050,1)" font-size="9.6" fill="#333" text-anchor="middle" stroke="#333" stroke-width="0.2">300</text>
<text transform="translate(623.76,131.80) scale(1.050,1)" font-size="9.6" fill="#333" text-anchor="middle" stroke="#333" stroke-width="0.2">320</text>
<text transform="translate(657.04,131.80) scale(1.050,1)" font-size="9.6" fill="#333" text-anchor="middle" stroke="#333" stroke-width="0.2">340</text>
<text transform="translate(690.32,131.80) scale(1.050,1)" font-size="9.6" fill="#333" text-anchor="middle" stroke="#333" stroke-width="0.2">360</text>
<text transform="translate(723.60,131.80) scale(1.050,1)" font-size="9.6" fill="#333" text-anchor="middle" stroke="#333" stroke-width="0.2">380</text>
<text transform="translate(756.88,131.80) scale(1.050,1)" font-size="9.6" fill="#333" text-anchor="middle" stroke="#333" stroke-width="0.2">400</text>
<text transform="translate(782.00,121.50) scale(1.050,1)" font-size="9.8" fill="#333" text-anchor="start" stroke="#333" stroke-width="0.2">m/z</text>
<text x="369" y="40.8" font-size="14" fill="#222" stroke="#222" stroke-width="0.3">the analyte t<tspan font-size="9" dy="3">R</tspan><tspan dy="-3"> = 5.90 min</tspan></text>
<line x1="389.30" y1="118.50" x2="389.30" y2="117.56" stroke="#a4a4a4" stroke-width="0.9"/>
<line x1="416.09" y1="118.50" x2="416.09" y2="117.38" stroke="#a4a4a4" stroke-width="0.9"/>
<line x1="432.73" y1="118.50" x2="432.73" y2="96.69" stroke="#a4a4a4" stroke-width="0.9"/>
<line x1="434.40" y1="118.50" x2="434.40" y2="115.69" stroke="#a4a4a4" stroke-width="0.9"/>
<line x1="452.70" y1="118.50" x2="452.70" y2="108.77" stroke="#a4a4a4" stroke-width="0.9"/>
<line x1="476.00" y1="118.50" x2="476.00" y2="101.28" stroke="#a4a4a4" stroke-width="0.9"/>
<line x1="479.32" y1="118.50" x2="479.32" y2="93.04" stroke="#a4a4a4" stroke-width="0.9"/>
<line x1="480.99" y1="118.50" x2="480.99" y2="111.95" stroke="#a4a4a4" stroke-width="0.9"/>
<line x1="492.64" y1="118.50" x2="492.64" y2="111.95" stroke="#a4a4a4" stroke-width="0.9"/>
<line x1="505.95" y1="118.50" x2="505.95" y2="111.01" stroke="#a4a4a4" stroke-width="0.9"/>
<line x1="509.28" y1="118.50" x2="509.28" y2="103.52" stroke="#a4a4a4" stroke-width="0.9"/>
<line x1="539.23" y1="118.50" x2="539.23" y2="113.35" stroke="#a4a4a4" stroke-width="0.9"/>
<line x1="542.56" y1="118.50" x2="542.56" y2="80.12" stroke="#a4a4a4" stroke-width="0.9"/>
<line x1="544.22" y1="118.50" x2="544.22" y2="110.45" stroke="#a4a4a4" stroke-width="0.9"/>
<line x1="545.88" y1="118.50" x2="545.88" y2="110.08" stroke="#a4a4a4" stroke-width="0.9"/>
<line x1="569.18" y1="118.50" x2="569.18" y2="110.08" stroke="#a4a4a4" stroke-width="0.9"/>
<line x1="570.84" y1="118.50" x2="570.84" y2="111.48" stroke="#a4a4a4" stroke-width="0.9"/>
<line x1="572.51" y1="118.50" x2="572.51" y2="97.44" stroke="#a4a4a4" stroke-width="0.9"/>
<line x1="575.84" y1="118.50" x2="575.84" y2="112.42" stroke="#a4a4a4" stroke-width="0.9"/>
<line x1="605.79" y1="118.50" x2="605.79" y2="110.64" stroke="#a4a4a4" stroke-width="0.9"/>
<line x1="617.10" y1="118.50" x2="617.10" y2="115.69" stroke="#a4a4a4" stroke-width="0.9"/>
<line x1="629.25" y1="118.50" x2="629.25" y2="111.48" stroke="#a4a4a4" stroke-width="0.9"/>
<line x1="632.58" y1="118.50" x2="632.58" y2="93.42" stroke="#a4a4a4" stroke-width="0.9"/>
<line x1="634.24" y1="118.50" x2="634.24" y2="111.01" stroke="#a4a4a4" stroke-width="0.9"/>
<line x1="637.07" y1="118.50" x2="637.07" y2="113.82" stroke="#a4a4a4" stroke-width="0.9"/>
<line x1="642.06" y1="118.50" x2="642.06" y2="115.69" stroke="#a4a4a4" stroke-width="0.9"/>
<line x1="648.72" y1="118.50" x2="648.72" y2="115.22" stroke="#a4a4a4" stroke-width="0.9"/>
<line x1="659.04" y1="118.50" x2="659.04" y2="87.61" stroke="#a4a4a4" stroke-width="0.9"/>
<line x1="662.53" y1="118.50" x2="662.53" y2="32.39" stroke="#a4a4a4" stroke-width="0.9"/>
<line x1="664.20" y1="118.50" x2="664.20" y2="93.70" stroke="#a4a4a4" stroke-width="0.9"/>
<line x1="665.86" y1="118.50" x2="665.86" y2="111.01" stroke="#a4a4a4" stroke-width="0.9"/>
<line x1="689.16" y1="118.50" x2="689.16" y2="98.84" stroke="#a4a4a4" stroke-width="0.9"/>
<line x1="692.48" y1="118.50" x2="692.48" y2="46.43" stroke="#a4a4a4" stroke-width="0.9"/>
<line x1="694.15" y1="118.50" x2="694.15" y2="99.22" stroke="#a4a4a4" stroke-width="0.9"/>
<line x1="705.80" y1="118.50" x2="705.80" y2="114.76" stroke="#a4a4a4" stroke-width="0.9"/>
<line x1="709.12" y1="118.50" x2="709.12" y2="96.97" stroke="#a4a4a4" stroke-width="0.9"/>
<line x1="710.79" y1="118.50" x2="710.79" y2="111.95" stroke="#a4a4a4" stroke-width="0.9"/>
<line x1="765.70" y1="118.50" x2="765.70" y2="111.95" stroke="#a4a4a4" stroke-width="0.9"/>
<line x1="769.03" y1="118.50" x2="769.03" y2="24.90" stroke="#a4a4a4" stroke-width="0.9"/>
<line x1="770.69" y1="118.50" x2="770.69" y2="95.10" stroke="#a4a4a4" stroke-width="0.9"/>
<line x1="772.36" y1="118.50" x2="772.36" y2="112.88" stroke="#a4a4a4" stroke-width="0.9"/>
<line x1="550.27" y1="118.50" x2="550.27" y2="116.20" stroke="#a4a4a4" stroke-width="0.9"/>
<line x1="742.62" y1="118.50" x2="742.62" y2="116.51" stroke="#a4a4a4" stroke-width="0.9"/>
<line x1="572.88" y1="118.50" x2="572.88" y2="116.11" stroke="#a4a4a4" stroke-width="0.9"/>
<line x1="441.12" y1="118.50" x2="441.12" y2="116.35" stroke="#a4a4a4" stroke-width="0.9"/>
<line x1="622.63" y1="118.50" x2="622.63" y2="115.43" stroke="#a4a4a4" stroke-width="0.9"/>
<line x1="404.21" y1="118.50" x2="404.21" y2="117.04" stroke="#a4a4a4" stroke-width="0.9"/>
<line x1="402.80" y1="118.50" x2="402.80" y2="115.38" stroke="#a4a4a4" stroke-width="0.9"/>
<line x1="648.54" y1="118.50" x2="648.54" y2="117.89" stroke="#a4a4a4" stroke-width="0.9"/>
<line x1="766.26" y1="118.50" x2="766.26" y2="114.87" stroke="#a4a4a4" stroke-width="0.9"/>
<line x1="632.43" y1="118.50" x2="632.43" y2="116.02" stroke="#a4a4a4" stroke-width="0.9"/>
<line x1="430.05" y1="118.50" x2="430.05" y2="117.98" stroke="#a4a4a4" stroke-width="0.9"/>
<line x1="581.25" y1="118.50" x2="581.25" y2="117.84" stroke="#a4a4a4" stroke-width="0.9"/>
<line x1="443.38" y1="118.50" x2="443.38" y2="117.24" stroke="#a4a4a4" stroke-width="0.9"/>
<line x1="378.10" y1="118.50" x2="378.10" y2="116.51" stroke="#a4a4a4" stroke-width="0.9"/>
<line x1="545.44" y1="118.50" x2="545.44" y2="115.27" stroke="#a4a4a4" stroke-width="0.9"/>
<line x1="577.48" y1="118.50" x2="577.48" y2="115.93" stroke="#a4a4a4" stroke-width="0.9"/>
<line x1="569.59" y1="118.50" x2="569.59" y2="115.86" stroke="#a4a4a4" stroke-width="0.9"/>
<line x1="552.28" y1="118.50" x2="552.28" y2="117.12" stroke="#a4a4a4" stroke-width="0.9"/>
<line x1="772.56" y1="118.50" x2="772.56" y2="114.77" stroke="#a4a4a4" stroke-width="0.9"/>
<line x1="708.38" y1="118.50" x2="708.38" y2="115.71" stroke="#a4a4a4" stroke-width="0.9"/>
<line x1="494.37" y1="118.50" x2="494.37" y2="117.28" stroke="#a4a4a4" stroke-width="0.9"/>
<line x1="483.68" y1="118.50" x2="483.68" y2="117.80" stroke="#a4a4a4" stroke-width="0.9"/>
<line x1="678.24" y1="118.50" x2="678.24" y2="116.72" stroke="#a4a4a4" stroke-width="0.9"/>
<line x1="710.98" y1="118.50" x2="710.98" y2="116.77" stroke="#a4a4a4" stroke-width="0.9"/>
<line x1="756.41" y1="118.50" x2="756.41" y2="115.26" stroke="#a4a4a4" stroke-width="0.9"/>
<line x1="366.06" y1="118.50" x2="366.06" y2="117.34" stroke="#a4a4a4" stroke-width="0.9"/>
<line x1="736.94" y1="118.50" x2="736.94" y2="116.49" stroke="#a4a4a4" stroke-width="0.9"/>
<line x1="765.51" y1="118.50" x2="765.51" y2="116.73" stroke="#a4a4a4" stroke-width="0.9"/>
<line x1="395.62" y1="118.50" x2="395.62" y2="115.97" stroke="#a4a4a4" stroke-width="0.9"/>
<line x1="683.22" y1="118.50" x2="683.22" y2="117.15" stroke="#a4a4a4" stroke-width="0.9"/>
<line x1="401.37" y1="118.50" x2="401.37" y2="116.94" stroke="#a4a4a4" stroke-width="0.9"/>
<line x1="758.87" y1="118.50" x2="758.87" y2="115.55" stroke="#a4a4a4" stroke-width="0.9"/>
<line x1="413.94" y1="118.50" x2="413.94" y2="117.22" stroke="#a4a4a4" stroke-width="0.9"/>
<line x1="407.03" y1="118.50" x2="407.03" y2="117.84" stroke="#a4a4a4" stroke-width="0.9"/>
<line x1="690.77" y1="118.50" x2="690.77" y2="117.45" stroke="#a4a4a4" stroke-width="0.9"/>
<line x1="593.85" y1="118.50" x2="593.85" y2="116.57" stroke="#a4a4a4" stroke-width="0.9"/>
<line x1="443.58" y1="118.50" x2="443.58" y2="115.63" stroke="#a4a4a4" stroke-width="0.9"/>
<line x1="419.23" y1="118.50" x2="419.23" y2="115.92" stroke="#a4a4a4" stroke-width="0.9"/>
<line x1="413.34" y1="118.50" x2="413.34" y2="116.65" stroke="#a4a4a4" stroke-width="0.9"/>
<line x1="452.62" y1="118.50" x2="452.62" y2="117.15" stroke="#a4a4a4" stroke-width="0.9"/>
<line x1="761.67" y1="118.50" x2="761.67" y2="115.40" stroke="#a4a4a4" stroke-width="0.9"/>
<line x1="489.83" y1="118.50" x2="489.83" y2="115.13" stroke="#a4a4a4" stroke-width="0.9"/>
<line x1="451.74" y1="118.50" x2="451.74" y2="116.74" stroke="#a4a4a4" stroke-width="0.9"/>
<line x1="714.15" y1="118.50" x2="714.15" y2="115.93" stroke="#a4a4a4" stroke-width="0.9"/>
<line x1="406.74" y1="118.50" x2="406.74" y2="114.79" stroke="#a4a4a4" stroke-width="0.9"/>
<line x1="452.78" y1="118.50" x2="452.78" y2="117.19" stroke="#a4a4a4" stroke-width="0.9"/>
<line x1="680.85" y1="118.50" x2="680.85" y2="116.95" stroke="#a4a4a4" stroke-width="0.9"/>
<line x1="486.65" y1="118.50" x2="486.65" y2="117.79" stroke="#a4a4a4" stroke-width="0.9"/>
<line x1="402.58" y1="118.50" x2="402.58" y2="116.12" stroke="#a4a4a4" stroke-width="0.9"/>
<line x1="464.91" y1="118.50" x2="464.91" y2="116.06" stroke="#a4a4a4" stroke-width="0.9"/>
<line x1="517.38" y1="118.50" x2="517.38" y2="116.55" stroke="#a4a4a4" stroke-width="0.9"/>
<line x1="756.86" y1="118.50" x2="756.86" y2="116.45" stroke="#a4a4a4" stroke-width="0.9"/>
<line x1="600.08" y1="118.50" x2="600.08" y2="115.19" stroke="#a4a4a4" stroke-width="0.9"/>
<line x1="440.38" y1="118.50" x2="440.38" y2="117.53" stroke="#a4a4a4" stroke-width="0.9"/>
<line x1="736.19" y1="118.50" x2="736.19" y2="115.35" stroke="#a4a4a4" stroke-width="0.9"/>
<line x1="467.56" y1="118.50" x2="467.56" y2="117.41" stroke="#a4a4a4" stroke-width="0.9"/>
<line x1="667.29" y1="118.50" x2="667.29" y2="114.95" stroke="#a4a4a4" stroke-width="0.9"/>
<line x1="445.99" y1="118.50" x2="445.99" y2="114.92" stroke="#a4a4a4" stroke-width="0.9"/>
<line x1="725.49" y1="118.50" x2="725.49" y2="116.05" stroke="#a4a4a4" stroke-width="0.9"/>
<line x1="537.66" y1="118.50" x2="537.66" y2="117.69" stroke="#a4a4a4" stroke-width="0.9"/>
<line x1="381.62" y1="118.50" x2="381.62" y2="114.88" stroke="#a4a4a4" stroke-width="0.9"/>
<line x1="463.03" y1="118.50" x2="463.03" y2="115.72" stroke="#a4a4a4" stroke-width="0.9"/>
<line x1="470.61" y1="118.50" x2="470.61" y2="115.33" stroke="#a4a4a4" stroke-width="0.9"/>
<line x1="609.01" y1="118.50" x2="609.01" y2="117.07" stroke="#a4a4a4" stroke-width="0.9"/>
<line x1="437.36" y1="118.50" x2="437.36" y2="115.67" stroke="#a4a4a4" stroke-width="0.9"/>
<line x1="393.88" y1="118.50" x2="393.88" y2="117.28" stroke="#a4a4a4" stroke-width="0.9"/>
<line x1="593.88" y1="118.50" x2="593.88" y2="115.24" stroke="#a4a4a4" stroke-width="0.9"/>
<line x1="616.28" y1="118.50" x2="616.28" y2="117.11" stroke="#a4a4a4" stroke-width="0.9"/>
<line x1="739.83" y1="118.50" x2="739.83" y2="117.36" stroke="#a4a4a4" stroke-width="0.9"/>
<line x1="372.60" y1="118.50" x2="372.60" y2="117.15" stroke="#a4a4a4" stroke-width="0.9"/>
<line x1="547.55" y1="118.50" x2="547.55" y2="117.83" stroke="#a4a4a4" stroke-width="0.9"/>
<line x1="437.70" y1="118.50" x2="437.70" y2="116.82" stroke="#a4a4a4" stroke-width="0.9"/>
<line x1="599.10" y1="118.50" x2="599.10" y2="117.60" stroke="#a4a4a4" stroke-width="0.9"/>
<line x1="513.48" y1="118.50" x2="513.48" y2="115.11" stroke="#a4a4a4" stroke-width="0.9"/>
<line x1="765.57" y1="118.50" x2="765.57" y2="115.88" stroke="#a4a4a4" stroke-width="0.9"/>
<line x1="647.64" y1="118.50" x2="647.64" y2="116.12" stroke="#a4a4a4" stroke-width="0.9"/>
<line x1="423.06" y1="118.50" x2="423.06" y2="117.92" stroke="#a4a4a4" stroke-width="0.9"/>
<line x1="373.14" y1="118.50" x2="373.14" y2="115.05" stroke="#a4a4a4" stroke-width="0.9"/>
<line x1="651.61" y1="118.50" x2="651.61" y2="114.88" stroke="#a4a4a4" stroke-width="0.9"/>
<line x1="374.51" y1="118.50" x2="374.51" y2="115.95" stroke="#a4a4a4" stroke-width="0.9"/>
<line x1="562.44" y1="118.50" x2="562.44" y2="115.64" stroke="#a4a4a4" stroke-width="0.9"/>
<line x1="495.85" y1="118.50" x2="495.85" y2="114.76" stroke="#a4a4a4" stroke-width="0.9"/>
<line x1="396.52" y1="118.50" x2="396.52" y2="116.24" stroke="#a4a4a4" stroke-width="0.9"/>
<line x1="666.30" y1="118.50" x2="666.30" y2="115.08" stroke="#a4a4a4" stroke-width="0.9"/>
<line x1="666.34" y1="118.50" x2="666.34" y2="115.73" stroke="#a4a4a4" stroke-width="0.9"/>
<line x1="689.24" y1="118.50" x2="689.24" y2="115.03" stroke="#a4a4a4" stroke-width="0.9"/>
<line x1="509.28" y1="118.50" x2="509.28" y2="115.79" stroke="#a4a4a4" stroke-width="0.9"/>
<line x1="733.09" y1="118.50" x2="733.09" y2="115.18" stroke="#a4a4a4" stroke-width="0.9"/>
<line x1="535.90" y1="118.50" x2="535.90" y2="115.44" stroke="#a4a4a4" stroke-width="0.9"/>
<line x1="717.86" y1="118.50" x2="717.86" y2="116.16" stroke="#a4a4a4" stroke-width="0.9"/>
<line x1="620.62" y1="118.50" x2="620.62" y2="116.78" stroke="#a4a4a4" stroke-width="0.9"/>
<line x1="603.39" y1="118.50" x2="603.39" y2="116.04" stroke="#a4a4a4" stroke-width="0.9"/>
<line x1="398.54" y1="118.50" x2="398.54" y2="115.94" stroke="#a4a4a4" stroke-width="0.9"/>
<line x1="770.80" y1="118.50" x2="770.80" y2="115.15" stroke="#a4a4a4" stroke-width="0.9"/>
<line x1="662.72" y1="118.50" x2="662.72" y2="116.76" stroke="#a4a4a4" stroke-width="0.9"/>
<line x1="665.50" y1="118.50" x2="665.50" y2="116.13" stroke="#a4a4a4" stroke-width="0.9"/>
<line x1="545.43" y1="118.50" x2="545.43" y2="115.29" stroke="#a4a4a4" stroke-width="0.9"/>
<line x1="400.00" y1="118.50" x2="400.00" y2="115.57" stroke="#a4a4a4" stroke-width="0.9"/>
<line x1="377.98" y1="118.50" x2="377.98" y2="116.06" stroke="#a4a4a4" stroke-width="0.9"/>
<line x1="561.92" y1="118.50" x2="561.92" y2="117.28" stroke="#a4a4a4" stroke-width="0.9"/>
<line x1="650.54" y1="118.50" x2="650.54" y2="116.40" stroke="#a4a4a4" stroke-width="0.9"/>
<line x1="616.36" y1="118.50" x2="616.36" y2="115.02" stroke="#a4a4a4" stroke-width="0.9"/>
<line x1="470.14" y1="118.50" x2="470.14" y2="117.99" stroke="#a4a4a4" stroke-width="0.9"/>
<line x1="488.56" y1="118.50" x2="488.56" y2="115.81" stroke="#a4a4a4" stroke-width="0.9"/>
<line x1="448.43" y1="118.50" x2="448.43" y2="117.48" stroke="#a4a4a4" stroke-width="0.9"/>
<line x1="735.08" y1="118.50" x2="735.08" y2="115.87" stroke="#a4a4a4" stroke-width="0.9"/>
<line x1="546.01" y1="118.50" x2="546.01" y2="115.11" stroke="#a4a4a4" stroke-width="0.9"/>
<line x1="499.14" y1="118.50" x2="499.14" y2="115.85" stroke="#a4a4a4" stroke-width="0.9"/>
<line x1="446.77" y1="118.50" x2="446.77" y2="116.62" stroke="#a4a4a4" stroke-width="0.9"/>
<line x1="694.43" y1="118.50" x2="694.43" y2="115.04" stroke="#a4a4a4" stroke-width="0.9"/>
<text transform="translate(389.40,113.00) scale(1.075,1)" font-size="9.4" fill="#2a2a2a" text-anchor="middle" stroke="#2a2a2a" stroke-width="0.2">179.1</text>
<text transform="translate(415.45,112.00) scale(1.075,1)" font-size="9.4" fill="#2a2a2a" text-anchor="middle" stroke="#2a2a2a" stroke-width="0.2">195.2</text>
<text transform="translate(432.75,94.50) scale(1.075,1)" font-size="9.4" fill="#2a2a2a" text-anchor="middle" stroke="#2a2a2a" stroke-width="0.2">205.2</text>
<text transform="translate(452.85,107.00) scale(1.075,1)" font-size="9.4" fill="#2a2a2a" text-anchor="middle" stroke="#2a2a2a" stroke-width="0.2">217.2</text>
<text transform="translate(479.55,90.60) scale(1.075,1)" font-size="9.4" fill="#2a2a2a" text-anchor="middle" stroke="#2a2a2a" stroke-width="0.2">233.2</text>
<text transform="translate(507.35,69.30) scale(1.020,1)" font-size="7.9" fill="#2a2a2a" text-anchor="middle" stroke="#2a2a2a" stroke-width="0.2">241.2</text>
<text transform="translate(509.30,101.40) scale(1.075,1)" font-size="9.4" fill="#2a2a2a" text-anchor="middle" stroke="#2a2a2a" stroke-width="0.2">251.2</text>
<text transform="translate(542.50,78.40) scale(1.075,1)" font-size="9.4" fill="#2a2a2a" text-anchor="middle" stroke="#2a2a2a" stroke-width="0.2">271.2</text>
<text transform="translate(572.30,95.40) scale(1.075,1)" font-size="9.4" fill="#2a2a2a" text-anchor="middle" stroke="#2a2a2a" stroke-width="0.2">289.2</text>
<text transform="translate(606.25,107.90) scale(1.075,1)" font-size="9.4" fill="#2a2a2a" text-anchor="middle" stroke="#2a2a2a" stroke-width="0.2">309.2</text>
<text transform="translate(632.30,93.10) scale(1.075,1)" font-size="9.4" fill="#2a2a2a" text-anchor="middle" stroke="#2a2a2a" stroke-width="0.2">325.3</text>
<text transform="translate(646.45,76.30) scale(1.075,1)" font-size="9.4" fill="#2a2a2a" text-anchor="middle" stroke="#2a2a2a" stroke-width="0.2">341.2</text>
<text transform="translate(662.35,28.40) scale(1.075,1)" font-size="9.4" fill="#2a2a2a" text-anchor="middle" stroke="#2a2a2a" stroke-width="0.2">343.3</text>
<text transform="translate(677.05,85.30) scale(1.075,1)" font-size="9.4" fill="#2a2a2a" text-anchor="middle" stroke="#2a2a2a" stroke-width="0.2">344.3</text>
<text transform="translate(692.25,44.00) scale(1.075,1)" font-size="9.4" fill="#2a2a2a" text-anchor="middle" stroke="#2a2a2a" stroke-width="0.2">361.3</text>
<text transform="translate(709.30,94.70) scale(1.075,1)" font-size="9.4" fill="#2a2a2a" text-anchor="middle" stroke="#2a2a2a" stroke-width="0.2">371.3</text>
<text transform="translate(723.45,106.70) scale(1.075,1)" font-size="9.4" fill="#2a2a2a" text-anchor="middle" stroke="#2a2a2a" stroke-width="0.2">372.3</text>
<text transform="translate(752.60,104.00) scale(1.075,1)" font-size="9.4" fill="#2a2a2a" text-anchor="middle" stroke="#2a2a2a" stroke-width="0.2">405.3</text>
<text transform="translate(768.75,23.30) scale(1.075,1)" font-size="9.4" fill="#2a2a2a" text-anchor="middle" stroke="#2a2a2a" stroke-width="0.2">407.3</text>
<text transform="translate(783.30,84.10) scale(1.075,1)" font-size="9.4" fill="#2a2a2a" text-anchor="middle" stroke="#2a2a2a" stroke-width="0.2">408.3</text>
<text transform="translate(785.00,105.80) scale(1.075,1)" font-size="9.4" fill="#2a2a2a" text-anchor="middle" stroke="#2a2a2a" stroke-width="0.2">409.3</text>
<text x="420.20" y="77.70" font-size="5.6" fill="#b0b0b0" textLength="23.20" lengthAdjust="spacingAndGlyphs">[C<tspan font-size="3.9" dy="1">14</tspan><tspan dy="-1"></tspan>H<tspan font-size="3.9" dy="1">21</tspan><tspan dy="-1"></tspan>O]</text>
<text x="426.20" y="85.40" font-size="5.6" fill="#b0b0b0" textLength="13.10" lengthAdjust="spacingAndGlyphs">-4.9ppm</text>
<text x="466.70" y="73.00" font-size="5.6" fill="#b0b0b0" textLength="23.00" lengthAdjust="spacingAndGlyphs">[C<tspan font-size="3.9" dy="1">16</tspan><tspan dy="-1"></tspan>H<tspan font-size="3.9" dy="1">25</tspan><tspan dy="-1"></tspan>O]</text>
<text x="469.30" y="80.10" font-size="5.6" fill="#b0b0b0" textLength="15.30" lengthAdjust="spacingAndGlyphs">-4.7ppm</text>
<text x="494.80" y="52.90" font-size="5.6" fill="#b0b0b0" textLength="24.00" lengthAdjust="spacingAndGlyphs">[C<tspan font-size="3.9" dy="1">16</tspan><tspan dy="-1"></tspan>H<tspan font-size="3.9" dy="1">23</tspan><tspan dy="-1"></tspan>O]</text>
<text x="496.80" y="61.10" font-size="5.6" fill="#b0b0b0" textLength="21.00" lengthAdjust="spacingAndGlyphs">-4.4ppm</text>
<text x="496.00" y="83.50" font-size="5.6" fill="#b0b0b0" textLength="24.50" lengthAdjust="spacingAndGlyphs">[C<tspan font-size="3.9" dy="1">16</tspan><tspan dy="-1"></tspan>H<tspan font-size="3.9" dy="1">17</tspan><tspan dy="-1"></tspan>O<tspan font-size="3.9" dy="1">2</tspan><tspan dy="-1"></tspan>]</text>
<text x="498.50" y="91.50" font-size="5.6" fill="#b0b0b0" textLength="19.00" lengthAdjust="spacingAndGlyphs">-3.4ppm</text>
<text x="529.90" y="61.30" font-size="5.6" fill="#b0b0b0" textLength="22.90" lengthAdjust="spacingAndGlyphs">[C<tspan font-size="3.9" dy="1">18</tspan><tspan dy="-1"></tspan>H<tspan font-size="3.9" dy="1">23</tspan><tspan dy="-1"></tspan>O]</text>
<text x="531.50" y="69.40" font-size="5.6" fill="#b0b0b0" textLength="19.50" lengthAdjust="spacingAndGlyphs">-3.7ppm</text>
<text x="558.20" y="46.00" font-size="5.6" fill="#b0b0b0" textLength="24.40" lengthAdjust="spacingAndGlyphs">[C<tspan font-size="3.9" dy="1">18</tspan><tspan dy="-1"></tspan>H<tspan font-size="3.9" dy="1">25</tspan><tspan dy="-1"></tspan>O<tspan font-size="3.9" dy="1">2</tspan><tspan dy="-1"></tspan>]</text>
<text x="560.50" y="54.10" font-size="5.6" fill="#b0b0b0" textLength="20.50" lengthAdjust="spacingAndGlyphs">-4.8ppm</text>
<text x="576.00" y="73.10" font-size="5.6" fill="#b0b0b0" textLength="48.60" lengthAdjust="spacingAndGlyphs">[M-H-3H<tspan font-size="3.9" dy="1">2</tspan><tspan dy="-1"></tspan>O-CO-CH<tspan font-size="3.9" dy="1">4</tspan><tspan dy="-1"></tspan>]</text>
<text x="589.80" y="81.90" font-size="5.6" fill="#b0b0b0" textLength="20.00" lengthAdjust="spacingAndGlyphs">+2.9ppm</text>
<text x="615.00" y="99.10" font-size="5.6" fill="#b0b0b0" textLength="32.80" lengthAdjust="spacingAndGlyphs">[M-H-3H<tspan font-size="3.9" dy="1">2</tspan><tspan dy="-1"></tspan>O-CO]</text>
<text x="625.60" y="106.60" font-size="5.6" fill="#b0b0b0" textLength="12.70" lengthAdjust="spacingAndGlyphs">-2.8ppm</text>
<text x="622.00" y="57.60" font-size="5.6" fill="#b0b0b0" textLength="46.00" lengthAdjust="spacingAndGlyphs">[M-H-2H<tspan font-size="3.9" dy="1">2</tspan><tspan dy="-1"></tspan>O-CO-H<tspan font-size="3.9" dy="1">2</tspan><tspan dy="-1"></tspan>]</text>
<text x="636.50" y="65.70" font-size="5.6" fill="#b0b0b0" textLength="20.00" lengthAdjust="spacingAndGlyphs">-2.1ppm</text>
<text x="642.40" y="10.70" font-size="5.6" fill="#b0b0b0" textLength="38.80" lengthAdjust="spacingAndGlyphs">[M-H-2H<tspan font-size="3.9" dy="1">2</tspan><tspan dy="-1"></tspan>O-CO]</text>
<text x="651.00" y="19.20" font-size="5.6" fill="#b0b0b0" textLength="20.00" lengthAdjust="spacingAndGlyphs">-3.2ppm</text>
<text x="683.30" y="28.00" font-size="5.6" fill="#b0b0b0" textLength="35.70" lengthAdjust="spacingAndGlyphs">[M-H-H<tspan font-size="3.9" dy="1">2</tspan><tspan dy="-1"></tspan>O-CO]</text>
<text x="691.00" y="36.60" font-size="5.6" fill="#b0b0b0" textLength="20.00" lengthAdjust="spacingAndGlyphs">-3.6ppm</text>
<text x="693.70" y="77.00" font-size="5.6" fill="#b0b0b0" textLength="29.40" lengthAdjust="spacingAndGlyphs">[M-H-2H<tspan font-size="3.9" dy="1">2</tspan><tspan dy="-1"></tspan>O]</text>
<text x="698.50" y="85.10" font-size="5.6" fill="#b0b0b0" textLength="20.00" lengthAdjust="spacingAndGlyphs">-4.0ppm</text>
<text x="759.00" y="4.50" font-size="5.6" fill="#b0b0b0" textLength="16.00" lengthAdjust="spacingAndGlyphs">[M-H]</text>
<text x="759.00" y="14.10" font-size="5.6" fill="#b0b0b0" textLength="19.60" lengthAdjust="spacingAndGlyphs">-3.2ppm</text>
<polyline points="505.50,70.50 492.40,112.00" fill="none" stroke="#a8a8a8" stroke-width="0.7" stroke-linejoin="round"/>
<polyline points="653.50,77.50 659.30,82.50 659.30,118.00" fill="none" stroke="#a8a8a8" stroke-width="0.7" stroke-linejoin="round"/>
<polyline points="667.20,86.50 664.20,93.70" fill="none" stroke="#a8a8a8" stroke-width="0.7" stroke-linejoin="round"/>
<polyline points="759.10,106.40 765.50,112.30 765.50,118.00" fill="none" stroke="#a8a8a8" stroke-width="0.7" stroke-linejoin="round"/>
<polyline points="779.10,107.20 772.30,112.70" fill="none" stroke="#a8a8a8" stroke-width="0.7" stroke-linejoin="round"/>
<polyline points="776.50,86.50 770.60,94.00" fill="none" stroke="#a8a8a8" stroke-width="0.7" stroke-linejoin="round"/>
<polyline points="714.00,108.00 710.40,113.50" fill="none" stroke="#a8a8a8" stroke-width="0.7" stroke-linejoin="round"/>
<polyline points="571.40,55.00 571.40,87.50" fill="none" stroke="#c4c4c4" stroke-width="0.7" stroke-linejoin="round"/>
<polyline points="599.90,83.20 603.50,99.00" fill="none" stroke="#c4c4c4" stroke-width="0.7" stroke-linejoin="round"/>
<polyline points="605.20,217.50 605.20,251.50" fill="none" stroke="#c4c4c4" stroke-width="0.7" stroke-linejoin="round"/>
<polyline points="626.00,219.00 626.00,232.00" fill="none" stroke="#c4c4c4" stroke-width="0.7" stroke-linejoin="round"/>
<text transform="translate(380.90,174.00) scale(0.930,1)" font-size="26.5" fill="#111" text-anchor="middle" font-weight="bold">D</text>
<line x1="360.80" y1="179.80" x2="360.80" y2="273.30" stroke="#bbbbbb" stroke-width="1.0"/>
<line x1="355.50" y1="273.30" x2="360.80" y2="273.30" stroke="#b4b4b4" stroke-width="0.9"/>
<line x1="358.80" y1="263.95" x2="360.80" y2="263.95" stroke="#b4b4b4" stroke-width="0.9"/>
<line x1="358.80" y1="254.60" x2="360.80" y2="254.60" stroke="#b4b4b4" stroke-width="0.9"/>
<line x1="358.80" y1="245.25" x2="360.80" y2="245.25" stroke="#b4b4b4" stroke-width="0.9"/>
<line x1="358.80" y1="235.90" x2="360.80" y2="235.90" stroke="#b4b4b4" stroke-width="0.9"/>
<line x1="358.80" y1="226.55" x2="360.80" y2="226.55" stroke="#b4b4b4" stroke-width="0.9"/>
<line x1="358.80" y1="217.20" x2="360.80" y2="217.20" stroke="#b4b4b4" stroke-width="0.9"/>
<line x1="358.80" y1="207.85" x2="360.80" y2="207.85" stroke="#b4b4b4" stroke-width="0.9"/>
<line x1="358.80" y1="198.50" x2="360.80" y2="198.50" stroke="#b4b4b4" stroke-width="0.9"/>
<line x1="358.80" y1="189.15" x2="360.80" y2="189.15" stroke="#b4b4b4" stroke-width="0.9"/>
<line x1="355.50" y1="179.80" x2="360.80" y2="179.80" stroke="#b4b4b4" stroke-width="0.9"/>
<text transform="translate(355.20,183.30) scale(1.080,1)" font-size="9.7" fill="#444" text-anchor="end">100</text>
<text transform="translate(355.30,276.80) scale(1.080,1)" font-size="9.7" fill="#444" text-anchor="end">0</text>
<text transform="translate(355.3,226.55) rotate(-90)" font-size="9.6" fill="#444" text-anchor="middle">%</text>
<line x1="360.80" y1="273.30" x2="777.00" y2="273.30" stroke="#9a9a9a" stroke-width="1.0"/>
<line x1="360.85" y1="273.30" x2="360.85" y2="275.30" stroke="#bcbcbc" stroke-width="0.75"/>
<line x1="362.51" y1="273.30" x2="362.51" y2="275.30" stroke="#bcbcbc" stroke-width="0.75"/>
<line x1="364.18" y1="273.30" x2="364.18" y2="275.30" stroke="#bcbcbc" stroke-width="0.75"/>
<line x1="365.84" y1="273.30" x2="365.84" y2="275.30" stroke="#bcbcbc" stroke-width="0.75"/>
<line x1="367.50" y1="273.30" x2="367.50" y2="275.30" stroke="#bcbcbc" stroke-width="0.75"/>
<line x1="369.17" y1="273.30" x2="369.17" y2="275.30" stroke="#bcbcbc" stroke-width="0.75"/>
<line x1="370.83" y1="273.30" x2="370.83" y2="275.30" stroke="#bcbcbc" stroke-width="0.75"/>
<line x1="372.50" y1="273.30" x2="372.50" y2="275.30" stroke="#bcbcbc" stroke-width="0.75"/>
<line x1="374.16" y1="273.30" x2="374.16" y2="278.10" stroke="#a8a8a8" stroke-width="0.75"/>
<line x1="375.82" y1="273.30" x2="375.82" y2="275.30" stroke="#bcbcbc" stroke-width="0.75"/>
<line x1="377.49" y1="273.30" x2="377.49" y2="275.30" stroke="#bcbcbc" stroke-width="0.75"/>
<line x1="379.15" y1="273.30" x2="379.15" y2="275.30" stroke="#bcbcbc" stroke-width="0.75"/>
<line x1="380.82" y1="273.30" x2="380.82" y2="275.30" stroke="#bcbcbc" stroke-width="0.75"/>
<line x1="382.48" y1="273.30" x2="382.48" y2="275.30" stroke="#bcbcbc" stroke-width="0.75"/>
<line x1="384.14" y1="273.30" x2="384.14" y2="275.30" stroke="#bcbcbc" stroke-width="0.75"/>
<line x1="385.81" y1="273.30" x2="385.81" y2="275.30" stroke="#bcbcbc" stroke-width="0.75"/>
<line x1="387.47" y1="273.30" x2="387.47" y2="275.30" stroke="#bcbcbc" stroke-width="0.75"/>
<line x1="389.14" y1="273.30" x2="389.14" y2="275.30" stroke="#bcbcbc" stroke-width="0.75"/>
<line x1="390.80" y1="273.30" x2="390.80" y2="278.10" stroke="#a8a8a8" stroke-width="0.75"/>
<line x1="392.46" y1="273.30" x2="392.46" y2="275.30" stroke="#bcbcbc" stroke-width="0.75"/>
<line x1="394.13" y1="273.30" x2="394.13" y2="275.30" stroke="#bcbcbc" stroke-width="0.75"/>
<line x1="395.79" y1="273.30" x2="395.79" y2="275.30" stroke="#bcbcbc" stroke-width="0.75"/>
<line x1="397.46" y1="273.30" x2="397.46" y2="275.30" stroke="#bcbcbc" stroke-width="0.75"/>
<line x1="399.12" y1="273.30" x2="399.12" y2="275.30" stroke="#bcbcbc" stroke-width="0.75"/>
<line x1="400.78" y1="273.30" x2="400.78" y2="275.30" stroke="#bcbcbc" stroke-width="0.75"/>
<line x1="402.45" y1="273.30" x2="402.45" y2="275.30" stroke="#bcbcbc" stroke-width="0.75"/>
<line x1="404.11" y1="273.30" x2="404.11" y2="275.30" stroke="#bcbcbc" stroke-width="0.75"/>
<line x1="405.78" y1="273.30" x2="405.78" y2="275.30" stroke="#bcbcbc" stroke-width="0.75"/>
<line x1="407.44" y1="273.30" x2="407.44" y2="278.10" stroke="#a8a8a8" stroke-width="0.75"/>
<line x1="409.10" y1="273.30" x2="409.10" y2="275.30" stroke="#bcbcbc" stroke-width="0.75"/>
<line x1="410.77" y1="273.30" x2="410.77" y2="275.30" stroke="#bcbcbc" stroke-width="0.75"/>
<line x1="412.43" y1="273.30" x2="412.43" y2="275.30" stroke="#bcbcbc" stroke-width="0.75"/>
<line x1="414.10" y1="273.30" x2="414.10" y2="275.30" stroke="#bcbcbc" stroke-width="0.75"/>
<line x1="415.76" y1="273.30" x2="415.76" y2="275.30" stroke="#bcbcbc" stroke-width="0.75"/>
<line x1="417.42" y1="273.30" x2="417.42" y2="275.30" stroke="#bcbcbc" stroke-width="0.75"/>
<line x1="419.09" y1="273.30" x2="419.09" y2="275.30" stroke="#bcbcbc" stroke-width="0.75"/>
<line x1="420.75" y1="273.30" x2="420.75" y2="275.30" stroke="#bcbcbc" stroke-width="0.75"/>
<line x1="422.42" y1="273.30" x2="422.42" y2="275.30" stroke="#bcbcbc" stroke-width="0.75"/>
<line x1="424.08" y1="273.30" x2="424.08" y2="278.10" stroke="#a8a8a8" stroke-width="0.75"/>
<line x1="425.74" y1="273.30" x2="425.74" y2="275.30" stroke="#bcbcbc" stroke-width="0.75"/>
<line x1="427.41" y1="273.30" x2="427.41" y2="275.30" stroke="#bcbcbc" stroke-width="0.75"/>
<line x1="429.07" y1="273.30" x2="429.07" y2="275.30" stroke="#bcbcbc" stroke-width="0.75"/>
<line x1="430.74" y1="273.30" x2="430.74" y2="275.30" stroke="#bcbcbc" stroke-width="0.75"/>
<line x1="432.40" y1="273.30" x2="432.40" y2="275.30" stroke="#bcbcbc" stroke-width="0.75"/>
<line x1="434.06" y1="273.30" x2="434.06" y2="275.30" stroke="#bcbcbc" stroke-width="0.75"/>
<line x1="435.73" y1="273.30" x2="435.73" y2="275.30" stroke="#bcbcbc" stroke-width="0.75"/>
<line x1="437.39" y1="273.30" x2="437.39" y2="275.30" stroke="#bcbcbc" stroke-width="0.75"/>
<line x1="439.06" y1="273.30" x2="439.06" y2="275.30" stroke="#bcbcbc" stroke-width="0.75"/>
<line x1="440.72" y1="273.30" x2="440.72" y2="278.10" stroke="#a8a8a8" stroke-width="0.75"/>
<line x1="442.38" y1="273.30" x2="442.38" y2="275.30" stroke="#bcbcbc" stroke-width="0.75"/>
<line x1="444.05" y1="273.30" x2="444.05" y2="275.30" stroke="#bcbcbc" stroke-width="0.75"/>
<line x1="445.71" y1="273.30" x2="445.71" y2="275.30" stroke="#bcbcbc" stroke-width="0.75"/>
<line x1="447.38" y1="273.30" x2="447.38" y2="275.30" stroke="#bcbcbc" stroke-width="0.75"/>
<line x1="449.04" y1="273.30" x2="449.04" y2="275.30" stroke="#bcbcbc" stroke-width="0.75"/>
<line x1="450.70" y1="273.30" x2="450.70" y2="275.30" stroke="#bcbcbc" stroke-width="0.75"/>
<line x1="452.37" y1="273.30" x2="452.37" y2="275.30" stroke="#bcbcbc" stroke-width="0.75"/>
<line x1="454.03" y1="273.30" x2="454.03" y2="275.30" stroke="#bcbcbc" stroke-width="0.75"/>
<line x1="455.70" y1="273.30" x2="455.70" y2="275.30" stroke="#bcbcbc" stroke-width="0.75"/>
<line x1="457.36" y1="273.30" x2="457.36" y2="278.10" stroke="#a8a8a8" stroke-width="0.75"/>
<line x1="459.02" y1="273.30" x2="459.02" y2="275.30" stroke="#bcbcbc" stroke-width="0.75"/>
<line x1="460.69" y1="273.30" x2="460.69" y2="275.30" stroke="#bcbcbc" stroke-width="0.75"/>
<line x1="462.35" y1="273.30" x2="462.35" y2="275.30" stroke="#bcbcbc" stroke-width="0.75"/>
<line x1="464.02" y1="273.30" x2="464.02" y2="275.30" stroke="#bcbcbc" stroke-width="0.75"/>
<line x1="465.68" y1="273.30" x2="465.68" y2="275.30" stroke="#bcbcbc" stroke-width="0.75"/>
<line x1="467.34" y1="273.30" x2="467.34" y2="275.30" stroke="#bcbcbc" stroke-width="0.75"/>
<line x1="469.01" y1="273.30" x2="469.01" y2="275.30" stroke="#bcbcbc" stroke-width="0.75"/>
<line x1="470.67" y1="273.30" x2="470.67" y2="275.30" stroke="#bcbcbc" stroke-width="0.75"/>
<line x1="472.34" y1="273.30" x2="472.34" y2="275.30" stroke="#bcbcbc" stroke-width="0.75"/>
<line x1="474.00" y1="273.30" x2="474.00" y2="278.10" stroke="#a8a8a8" stroke-width="0.75"/>
<line x1="475.66" y1="273.30" x2="475.66" y2="275.30" stroke="#bcbcbc" stroke-width="0.75"/>
<line x1="477.33" y1="273.30" x2="477.33" y2="275.30" stroke="#bcbcbc" stroke-width="0.75"/>
<line x1="478.99" y1="273.30" x2="478.99" y2="275.30" stroke="#bcbcbc" stroke-width="0.75"/>
<line x1="480.66" y1="273.30" x2="480.66" y2="275.30" stroke="#bcbcbc" stroke-width="0.75"/>
<line x1="482.32" y1="273.30" x2="482.32" y2="275.30" stroke="#bcbcbc" stroke-width="0.75"/>
<line x1="483.98" y1="273.30" x2="483.98" y2="275.30" stroke="#bcbcbc" stroke-width="0.75"/>
<line x1="485.65" y1="273.30" x2="485.65" y2="275.30" stroke="#bcbcbc" stroke-width="0.75"/>
<line x1="487.31" y1="273.30" x2="487.31" y2="275.30" stroke="#bcbcbc" stroke-width="0.75"/>
<line x1="488.98" y1="273.30" x2="488.98" y2="275.30" stroke="#bcbcbc" stroke-width="0.75"/>
<line x1="490.64" y1="273.30" x2="490.64" y2="278.10" stroke="#a8a8a8" stroke-width="0.75"/>
<line x1="492.30" y1="273.30" x2="492.30" y2="275.30" stroke="#bcbcbc" stroke-width="0.75"/>
<line x1="493.97" y1="273.30" x2="493.97" y2="275.30" stroke="#bcbcbc" stroke-width="0.75"/>
<line x1="495.63" y1="273.30" x2="495.63" y2="275.30" stroke="#bcbcbc" stroke-width="0.75"/>
<line x1="497.30" y1="273.30" x2="497.30" y2="275.30" stroke="#bcbcbc" stroke-width="0.75"/>
<line x1="498.96" y1="273.30" x2="498.96" y2="275.30" stroke="#bcbcbc" stroke-width="0.75"/>
<line x1="500.62" y1="273.30" x2="500.62" y2="275.30" stroke="#bcbcbc" stroke-width="0.75"/>
<line x1="502.29" y1="273.30" x2="502.29" y2="275.30" stroke="#bcbcbc" stroke-width="0.75"/>
<line x1="503.95" y1="273.30" x2="503.95" y2="275.30" stroke="#bcbcbc" stroke-width="0.75"/>
<line x1="505.62" y1="273.30" x2="505.62" y2="275.30" stroke="#bcbcbc" stroke-width="0.75"/>
<line x1="507.28" y1="273.30" x2="507.28" y2="278.10" stroke="#a8a8a8" stroke-width="0.75"/>
<line x1="508.94" y1="273.30" x2="508.94" y2="275.30" stroke="#bcbcbc" stroke-width="0.75"/>
<line x1="510.61" y1="273.30" x2="510.61" y2="275.30" stroke="#bcbcbc" stroke-width="0.75"/>
<line x1="512.27" y1="273.30" x2="512.27" y2="275.30" stroke="#bcbcbc" stroke-width="0.75"/>
<line x1="513.94" y1="273.30" x2="513.94" y2="275.30" stroke="#bcbcbc" stroke-width="0.75"/>
<line x1="515.60" y1="273.30" x2="515.60" y2="275.30" stroke="#bcbcbc" stroke-width="0.75"/>
<line x1="517.26" y1="273.30" x2="517.26" y2="275.30" stroke="#bcbcbc" stroke-width="0.75"/>
<line x1="518.93" y1="273.30" x2="518.93" y2="275.30" stroke="#bcbcbc" stroke-width="0.75"/>
<line x1="520.59" y1="273.30" x2="520.59" y2="275.30" stroke="#bcbcbc" stroke-width="0.75"/>
<line x1="522.26" y1="273.30" x2="522.26" y2="275.30" stroke="#bcbcbc" stroke-width="0.75"/>
<line x1="523.92" y1="273.30" x2="523.92" y2="278.10" stroke="#a8a8a8" stroke-width="0.75"/>
<line x1="525.58" y1="273.30" x2="525.58" y2="275.30" stroke="#bcbcbc" stroke-width="0.75"/>
<line x1="527.25" y1="273.30" x2="527.25" y2="275.30" stroke="#bcbcbc" stroke-width="0.75"/>
<line x1="528.91" y1="273.30" x2="528.91" y2="275.30" stroke="#bcbcbc" stroke-width="0.75"/>
<line x1="530.58" y1="273.30" x2="530.58" y2="275.30" stroke="#bcbcbc" stroke-width="0.75"/>
<line x1="532.24" y1="273.30" x2="532.24" y2="275.30" stroke="#bcbcbc" stroke-width="0.75"/>
<line x1="533.90" y1="273.30" x2="533.90" y2="275.30" stroke="#bcbcbc" stroke-width="0.75"/>
<line x1="535.57" y1="273.30" x2="535.57" y2="275.30" stroke="#bcbcbc" stroke-width="0.75"/>
<line x1="537.23" y1="273.30" x2="537.23" y2="275.30" stroke="#bcbcbc" stroke-width="0.75"/>
<line x1="538.90" y1="273.30" x2="538.90" y2="275.30" stroke="#bcbcbc" stroke-width="0.75"/>
<line x1="540.56" y1="273.30" x2="540.56" y2="278.10" stroke="#a8a8a8" stroke-width="0.75"/>
<line x1="542.22" y1="273.30" x2="542.22" y2="275.30" stroke="#bcbcbc" stroke-width="0.75"/>
<line x1="543.89" y1="273.30" x2="543.89" y2="275.30" stroke="#bcbcbc" stroke-width="0.75"/>
<line x1="545.55" y1="273.30" x2="545.55" y2="275.30" stroke="#bcbcbc" stroke-width="0.75"/>
<line x1="547.22" y1="273.30" x2="547.22" y2="275.30" stroke="#bcbcbc" stroke-width="0.75"/>
<line x1="548.88" y1="273.30" x2="548.88" y2="275.30" stroke="#bcbcbc" stroke-width="0.75"/>
<line x1="550.54" y1="273.30" x2="550.54" y2="275.30" stroke="#bcbcbc" stroke-width="0.75"/>
<line x1="552.21" y1="273.30" x2="552.21" y2="275.30" stroke="#bcbcbc" stroke-width="0.75"/>
<line x1="553.87" y1="273.30" x2="553.87" y2="275.30" stroke="#bcbcbc" stroke-width="0.75"/>
<line x1="555.54" y1="273.30" x2="555.54" y2="275.30" stroke="#bcbcbc" stroke-width="0.75"/>
<line x1="557.20" y1="273.30" x2="557.20" y2="278.10" stroke="#a8a8a8" stroke-width="0.75"/>
<line x1="558.86" y1="273.30" x2="558.86" y2="275.30" stroke="#bcbcbc" stroke-width="0.75"/>
<line x1="560.53" y1="273.30" x2="560.53" y2="275.30" stroke="#bcbcbc" stroke-width="0.75"/>
<line x1="562.19" y1="273.30" x2="562.19" y2="275.30" stroke="#bcbcbc" stroke-width="0.75"/>
<line x1="563.86" y1="273.30" x2="563.86" y2="275.30" stroke="#bcbcbc" stroke-width="0.75"/>
<line x1="565.52" y1="273.30" x2="565.52" y2="275.30" stroke="#bcbcbc" stroke-width="0.75"/>
<line x1="567.18" y1="273.30" x2="567.18" y2="275.30" stroke="#bcbcbc" stroke-width="0.75"/>
<line x1="568.85" y1="273.30" x2="568.85" y2="275.30" stroke="#bcbcbc" stroke-width="0.75"/>
<line x1="570.51" y1="273.30" x2="570.51" y2="275.30" stroke="#bcbcbc" stroke-width="0.75"/>
<line x1="572.18" y1="273.30" x2="572.18" y2="275.30" stroke="#bcbcbc" stroke-width="0.75"/>
<line x1="573.84" y1="273.30" x2="573.84" y2="278.10" stroke="#a8a8a8" stroke-width="0.75"/>
<line x1="575.50" y1="273.30" x2="575.50" y2="275.30" stroke="#bcbcbc" stroke-width="0.75"/>
<line x1="577.17" y1="273.30" x2="577.17" y2="275.30" stroke="#bcbcbc" stroke-width="0.75"/>
<line x1="578.83" y1="273.30" x2="578.83" y2="275.30" stroke="#bcbcbc" stroke-width="0.75"/>
<line x1="580.50" y1="273.30" x2="580.50" y2="275.30" stroke="#bcbcbc" stroke-width="0.75"/>
<line x1="582.16" y1="273.30" x2="582.16" y2="275.30" stroke="#bcbcbc" stroke-width="0.75"/>
<line x1="583.82" y1="273.30" x2="583.82" y2="275.30" stroke="#bcbcbc" stroke-width="0.75"/>
<line x1="585.49" y1="273.30" x2="585.49" y2="275.30" stroke="#bcbcbc" stroke-width="0.75"/>
<line x1="587.15" y1="273.30" x2="587.15" y2="275.30" stroke="#bcbcbc" stroke-width="0.75"/>
<line x1="588.82" y1="273.30" x2="588.82" y2="275.30" stroke="#bcbcbc" stroke-width="0.75"/>
<line x1="590.48" y1="273.30" x2="590.48" y2="278.10" stroke="#a8a8a8" stroke-width="0.75"/>
<line x1="592.14" y1="273.30" x2="592.14" y2="275.30" stroke="#bcbcbc" stroke-width="0.75"/>
<line x1="593.81" y1="273.30" x2="593.81" y2="275.30" stroke="#bcbcbc" stroke-width="0.75"/>
<line x1="595.47" y1="273.30" x2="595.47" y2="275.30" stroke="#bcbcbc" stroke-width="0.75"/>
<line x1="597.14" y1="273.30" x2="597.14" y2="275.30" stroke="#bcbcbc" stroke-width="0.75"/>
<line x1="598.80" y1="273.30" x2="598.80" y2="275.30" stroke="#bcbcbc" stroke-width="0.75"/>
<line x1="600.46" y1="273.30" x2="600.46" y2="275.30" stroke="#bcbcbc" stroke-width="0.75"/>
<line x1="602.13" y1="273.30" x2="602.13" y2="275.30" stroke="#bcbcbc" stroke-width="0.75"/>
<line x1="603.79" y1="273.30" x2="603.79" y2="275.30" stroke="#bcbcbc" stroke-width="0.75"/>
<line x1="605.46" y1="273.30" x2="605.46" y2="275.30" stroke="#bcbcbc" stroke-width="0.75"/>
<line x1="607.12" y1="273.30" x2="607.12" y2="278.10" stroke="#a8a8a8" stroke-width="0.75"/>
<line x1="608.78" y1="273.30" x2="608.78" y2="275.30" stroke="#bcbcbc" stroke-width="0.75"/>
<line x1="610.45" y1="273.30" x2="610.45" y2="275.30" stroke="#bcbcbc" stroke-width="0.75"/>
<line x1="612.11" y1="273.30" x2="612.11" y2="275.30" stroke="#bcbcbc" stroke-width="0.75"/>
<line x1="613.78" y1="273.30" x2="613.78" y2="275.30" stroke="#bcbcbc" stroke-width="0.75"/>
<line x1="615.44" y1="273.30" x2="615.44" y2="275.30" stroke="#bcbcbc" stroke-width="0.75"/>
<line x1="617.10" y1="273.30" x2="617.10" y2="275.30" stroke="#bcbcbc" stroke-width="0.75"/>
<line x1="618.77" y1="273.30" x2="618.77" y2="275.30" stroke="#bcbcbc" stroke-width="0.75"/>
<line x1="620.43" y1="273.30" x2="620.43" y2="275.30" stroke="#bcbcbc" stroke-width="0.75"/>
<line x1="622.10" y1="273.30" x2="622.10" y2="275.30" stroke="#bcbcbc" stroke-width="0.75"/>
<line x1="623.76" y1="273.30" x2="623.76" y2="278.10" stroke="#a8a8a8" stroke-width="0.75"/>
<line x1="625.42" y1="273.30" x2="625.42" y2="275.30" stroke="#bcbcbc" stroke-width="0.75"/>
<line x1="627.09" y1="273.30" x2="627.09" y2="275.30" stroke="#bcbcbc" stroke-width="0.75"/>
<line x1="628.75" y1="273.30" x2="628.75" y2="275.30" stroke="#bcbcbc" stroke-width="0.75"/>
<line x1="630.42" y1="273.30" x2="630.42" y2="275.30" stroke="#bcbcbc" stroke-width="0.75"/>
<line x1="632.08" y1="273.30" x2="632.08" y2="275.30" stroke="#bcbcbc" stroke-width="0.75"/>
<line x1="633.74" y1="273.30" x2="633.74" y2="275.30" stroke="#bcbcbc" stroke-width="0.75"/>
<line x1="635.41" y1="273.30" x2="635.41" y2="275.30" stroke="#bcbcbc" stroke-width="0.75"/>
<line x1="637.07" y1="273.30" x2="637.07" y2="275.30" stroke="#bcbcbc" stroke-width="0.75"/>
<line x1="638.74" y1="273.30" x2="638.74" y2="275.30" stroke="#bcbcbc" stroke-width="0.75"/>
<line x1="640.40" y1="273.30" x2="640.40" y2="278.10" stroke="#a8a8a8" stroke-width="0.75"/>
<line x1="642.06" y1="273.30" x2="642.06" y2="275.30" stroke="#bcbcbc" stroke-width="0.75"/>
<line x1="643.73" y1="273.30" x2="643.73" y2="275.30" stroke="#bcbcbc" stroke-width="0.75"/>
<line x1="645.39" y1="273.30" x2="645.39" y2="275.30" stroke="#bcbcbc" stroke-width="0.75"/>
<line x1="647.06" y1="273.30" x2="647.06" y2="275.30" stroke="#bcbcbc" stroke-width="0.75"/>
<line x1="648.72" y1="273.30" x2="648.72" y2="275.30" stroke="#bcbcbc" stroke-width="0.75"/>
<line x1="650.38" y1="273.30" x2="650.38" y2="275.30" stroke="#bcbcbc" stroke-width="0.75"/>
<line x1="652.05" y1="273.30" x2="652.05" y2="275.30" stroke="#bcbcbc" stroke-width="0.75"/>
<line x1="653.71" y1="273.30" x2="653.71" y2="275.30" stroke="#bcbcbc" stroke-width="0.75"/>
<line x1="655.38" y1="273.30" x2="655.38" y2="275.30" stroke="#bcbcbc" stroke-width="0.75"/>
<line x1="657.04" y1="273.30" x2="657.04" y2="278.10" stroke="#a8a8a8" stroke-width="0.75"/>
<line x1="658.70" y1="273.30" x2="658.70" y2="275.30" stroke="#bcbcbc" stroke-width="0.75"/>
<line x1="660.37" y1="273.30" x2="660.37" y2="275.30" stroke="#bcbcbc" stroke-width="0.75"/>
<line x1="662.03" y1="273.30" x2="662.03" y2="275.30" stroke="#bcbcbc" stroke-width="0.75"/>
<line x1="663.70" y1="273.30" x2="663.70" y2="275.30" stroke="#bcbcbc" stroke-width="0.75"/>
<line x1="665.36" y1="273.30" x2="665.36" y2="275.30" stroke="#bcbcbc" stroke-width="0.75"/>
<line x1="667.02" y1="273.30" x2="667.02" y2="275.30" stroke="#bcbcbc" stroke-width="0.75"/>
<line x1="668.69" y1="273.30" x2="668.69" y2="275.30" stroke="#bcbcbc" stroke-width="0.75"/>
<line x1="670.35" y1="273.30" x2="670.35" y2="275.30" stroke="#bcbcbc" stroke-width="0.75"/>
<line x1="672.02" y1="273.30" x2="672.02" y2="275.30" stroke="#bcbcbc" stroke-width="0.75"/>
<line x1="673.68" y1="273.30" x2="673.68" y2="278.10" stroke="#a8a8a8" stroke-width="0.75"/>
<line x1="675.34" y1="273.30" x2="675.34" y2="275.30" stroke="#bcbcbc" stroke-width="0.75"/>
<line x1="677.01" y1="273.30" x2="677.01" y2="275.30" stroke="#bcbcbc" stroke-width="0.75"/>
<line x1="678.67" y1="273.30" x2="678.67" y2="275.30" stroke="#bcbcbc" stroke-width="0.75"/>
<line x1="680.34" y1="273.30" x2="680.34" y2="275.30" stroke="#bcbcbc" stroke-width="0.75"/>
<line x1="682.00" y1="273.30" x2="682.00" y2="275.30" stroke="#bcbcbc" stroke-width="0.75"/>
<line x1="683.66" y1="273.30" x2="683.66" y2="275.30" stroke="#bcbcbc" stroke-width="0.75"/>
<line x1="685.33" y1="273.30" x2="685.33" y2="275.30" stroke="#bcbcbc" stroke-width="0.75"/>
<line x1="686.99" y1="273.30" x2="686.99" y2="275.30" stroke="#bcbcbc" stroke-width="0.75"/>
<line x1="688.66" y1="273.30" x2="688.66" y2="275.30" stroke="#bcbcbc" stroke-width="0.75"/>
<line x1="690.32" y1="273.30" x2="690.32" y2="278.10" stroke="#a8a8a8" stroke-width="0.75"/>
<line x1="691.98" y1="273.30" x2="691.98" y2="275.30" stroke="#bcbcbc" stroke-width="0.75"/>
<line x1="693.65" y1="273.30" x2="693.65" y2="275.30" stroke="#bcbcbc" stroke-width="0.75"/>
<line x1="695.31" y1="273.30" x2="695.31" y2="275.30" stroke="#bcbcbc" stroke-width="0.75"/>
<line x1="696.98" y1="273.30" x2="696.98" y2="275.30" stroke="#bcbcbc" stroke-width="0.75"/>
<line x1="698.64" y1="273.30" x2="698.64" y2="275.30" stroke="#bcbcbc" stroke-width="0.75"/>
<line x1="700.30" y1="273.30" x2="700.30" y2="275.30" stroke="#bcbcbc" stroke-width="0.75"/>
<line x1="701.97" y1="273.30" x2="701.97" y2="275.30" stroke="#bcbcbc" stroke-width="0.75"/>
<line x1="703.63" y1="273.30" x2="703.63" y2="275.30" stroke="#bcbcbc" stroke-width="0.75"/>
<line x1="705.30" y1="273.30" x2="705.30" y2="275.30" stroke="#bcbcbc" stroke-width="0.75"/>
<line x1="706.96" y1="273.30" x2="706.96" y2="278.10" stroke="#a8a8a8" stroke-width="0.75"/>
<line x1="708.62" y1="273.30" x2="708.62" y2="275.30" stroke="#bcbcbc" stroke-width="0.75"/>
<line x1="710.29" y1="273.30" x2="710.29" y2="275.30" stroke="#bcbcbc" stroke-width="0.75"/>
<line x1="711.95" y1="273.30" x2="711.95" y2="275.30" stroke="#bcbcbc" stroke-width="0.75"/>
<line x1="713.62" y1="273.30" x2="713.62" y2="275.30" stroke="#bcbcbc" stroke-width="0.75"/>
<line x1="715.28" y1="273.30" x2="715.28" y2="275.30" stroke="#bcbcbc" stroke-width="0.75"/>
<line x1="716.94" y1="273.30" x2="716.94" y2="275.30" stroke="#bcbcbc" stroke-width="0.75"/>
<line x1="718.61" y1="273.30" x2="718.61" y2="275.30" stroke="#bcbcbc" stroke-width="0.75"/>
<line x1="720.27" y1="273.30" x2="720.27" y2="275.30" stroke="#bcbcbc" stroke-width="0.75"/>
<line x1="721.94" y1="273.30" x2="721.94" y2="275.30" stroke="#bcbcbc" stroke-width="0.75"/>
<line x1="723.60" y1="273.30" x2="723.60" y2="278.10" stroke="#a8a8a8" stroke-width="0.75"/>
<line x1="725.26" y1="273.30" x2="725.26" y2="275.30" stroke="#bcbcbc" stroke-width="0.75"/>
<line x1="726.93" y1="273.30" x2="726.93" y2="275.30" stroke="#bcbcbc" stroke-width="0.75"/>
<line x1="728.59" y1="273.30" x2="728.59" y2="275.30" stroke="#bcbcbc" stroke-width="0.75"/>
<line x1="730.26" y1="273.30" x2="730.26" y2="275.30" stroke="#bcbcbc" stroke-width="0.75"/>
<line x1="731.92" y1="273.30" x2="731.92" y2="275.30" stroke="#bcbcbc" stroke-width="0.75"/>
<line x1="733.58" y1="273.30" x2="733.58" y2="275.30" stroke="#bcbcbc" stroke-width="0.75"/>
<line x1="735.25" y1="273.30" x2="735.25" y2="275.30" stroke="#bcbcbc" stroke-width="0.75"/>
<line x1="736.91" y1="273.30" x2="736.91" y2="275.30" stroke="#bcbcbc" stroke-width="0.75"/>
<line x1="738.58" y1="273.30" x2="738.58" y2="275.30" stroke="#bcbcbc" stroke-width="0.75"/>
<line x1="740.24" y1="273.30" x2="740.24" y2="278.10" stroke="#a8a8a8" stroke-width="0.75"/>
<line x1="741.90" y1="273.30" x2="741.90" y2="275.30" stroke="#bcbcbc" stroke-width="0.75"/>
<line x1="743.57" y1="273.30" x2="743.57" y2="275.30" stroke="#bcbcbc" stroke-width="0.75"/>
<line x1="745.23" y1="273.30" x2="745.23" y2="275.30" stroke="#bcbcbc" stroke-width="0.75"/>
<line x1="746.90" y1="273.30" x2="746.90" y2="275.30" stroke="#bcbcbc" stroke-width="0.75"/>
<line x1="748.56" y1="273.30" x2="748.56" y2="275.30" stroke="#bcbcbc" stroke-width="0.75"/>
<line x1="750.22" y1="273.30" x2="750.22" y2="275.30" stroke="#bcbcbc" stroke-width="0.75"/>
<line x1="751.89" y1="273.30" x2="751.89" y2="275.30" stroke="#bcbcbc" stroke-width="0.75"/>
<line x1="753.55" y1="273.30" x2="753.55" y2="275.30" stroke="#bcbcbc" stroke-width="0.75"/>
<line x1="755.22" y1="273.30" x2="755.22" y2="275.30" stroke="#bcbcbc" stroke-width="0.75"/>
<line x1="756.88" y1="273.30" x2="756.88" y2="278.10" stroke="#a8a8a8" stroke-width="0.75"/>
<line x1="758.54" y1="273.30" x2="758.54" y2="275.30" stroke="#bcbcbc" stroke-width="0.75"/>
<line x1="760.21" y1="273.30" x2="760.21" y2="275.30" stroke="#bcbcbc" stroke-width="0.75"/>
<line x1="761.87" y1="273.30" x2="761.87" y2="275.30" stroke="#bcbcbc" stroke-width="0.75"/>
<line x1="763.54" y1="273.30" x2="763.54" y2="275.30" stroke="#bcbcbc" stroke-width="0.75"/>
<line x1="765.20" y1="273.30" x2="765.20" y2="275.30" stroke="#bcbcbc" stroke-width="0.75"/>
<line x1="766.86" y1="273.30" x2="766.86" y2="275.30" stroke="#bcbcbc" stroke-width="0.75"/>
<line x1="768.53" y1="273.30" x2="768.53" y2="275.30" stroke="#bcbcbc" stroke-width="0.75"/>
<line x1="770.19" y1="273.30" x2="770.19" y2="275.30" stroke="#bcbcbc" stroke-width="0.75"/>
<line x1="771.86" y1="273.30" x2="771.86" y2="275.30" stroke="#bcbcbc" stroke-width="0.75"/>
<line x1="773.52" y1="273.30" x2="773.52" y2="278.10" stroke="#a8a8a8" stroke-width="0.75"/>
<line x1="775.18" y1="273.30" x2="775.18" y2="275.30" stroke="#bcbcbc" stroke-width="0.75"/>
<line x1="776.85" y1="273.30" x2="776.85" y2="275.30" stroke="#bcbcbc" stroke-width="0.75"/>
<text transform="translate(390.80,286.60) scale(1.050,1)" font-size="9.6" fill="#333" text-anchor="middle" stroke="#333" stroke-width="0.2">180</text>
<text transform="translate(424.08,286.60) scale(1.050,1)" font-size="9.6" fill="#333" text-anchor="middle" stroke="#333" stroke-width="0.2">200</text>
<text transform="translate(457.36,286.60) scale(1.050,1)" font-size="9.6" fill="#333" text-anchor="middle" stroke="#333" stroke-width="0.2">220</text>
<text transform="translate(490.64,286.60) scale(1.050,1)" font-size="9.6" fill="#333" text-anchor="middle" stroke="#333" stroke-width="0.2">240</text>
<text transform="translate(523.92,286.60) scale(1.050,1)" font-size="9.6" fill="#333" text-anchor="middle" stroke="#333" stroke-width="0.2">260</text>
<text transform="translate(557.20,286.60) scale(1.050,1)" font-size="9.6" fill="#333" text-anchor="middle" stroke="#333" stroke-width="0.2">280</text>
<text transform="translate(590.48,286.60) scale(1.050,1)" font-size="9.6" fill="#333" text-anchor="middle" stroke="#333" stroke-width="0.2">300</text>
<text transform="translate(623.76,286.60) scale(1.050,1)" font-size="9.6" fill="#333" text-anchor="middle" stroke="#333" stroke-width="0.2">320</text>
<text transform="translate(657.04,286.60) scale(1.050,1)" font-size="9.6" fill="#333" text-anchor="middle" stroke="#333" stroke-width="0.2">340</text>
<text transform="translate(690.32,286.60) scale(1.050,1)" font-size="9.6" fill="#333" text-anchor="middle" stroke="#333" stroke-width="0.2">360</text>
<text transform="translate(723.60,286.60) scale(1.050,1)" font-size="9.6" fill="#333" text-anchor="middle" stroke="#333" stroke-width="0.2">380</text>
<text transform="translate(756.88,286.60) scale(1.050,1)" font-size="9.6" fill="#333" text-anchor="middle" stroke="#333" stroke-width="0.2">400</text>
<text transform="translate(782.00,276.30) scale(1.050,1)" font-size="9.8" fill="#333" text-anchor="start" stroke="#333" stroke-width="0.2">m/z</text>
<text x="369.2" y="195.5" font-size="13.6" fill="#222" stroke="#222" stroke-width="0.3">βUCA standard</text>
<line x1="389.30" y1="273.30" x2="389.30" y2="271.43" stroke="#a4a4a4" stroke-width="0.9"/>
<line x1="416.09" y1="273.30" x2="416.09" y2="267.22" stroke="#a4a4a4" stroke-width="0.9"/>
<line x1="432.73" y1="273.30" x2="432.73" y2="249.93" stroke="#a4a4a4" stroke-width="0.9"/>
<line x1="434.40" y1="273.30" x2="434.40" y2="270.50" stroke="#a4a4a4" stroke-width="0.9"/>
<line x1="452.70" y1="273.30" x2="452.70" y2="267.69" stroke="#a4a4a4" stroke-width="0.9"/>
<line x1="476.00" y1="273.30" x2="476.00" y2="250.86" stroke="#a4a4a4" stroke-width="0.9"/>
<line x1="479.32" y1="273.30" x2="479.32" y2="246.19" stroke="#a4a4a4" stroke-width="0.9"/>
<line x1="480.99" y1="273.30" x2="480.99" y2="268.62" stroke="#a4a4a4" stroke-width="0.9"/>
<line x1="492.64" y1="273.30" x2="492.64" y2="245.25" stroke="#a4a4a4" stroke-width="0.9"/>
<line x1="505.95" y1="273.30" x2="505.95" y2="269.56" stroke="#a4a4a4" stroke-width="0.9"/>
<line x1="509.28" y1="273.30" x2="509.28" y2="260.68" stroke="#a4a4a4" stroke-width="0.9"/>
<line x1="532.24" y1="273.30" x2="532.24" y2="269.56" stroke="#a4a4a4" stroke-width="0.9"/>
<line x1="539.23" y1="273.30" x2="539.23" y2="268.62" stroke="#a4a4a4" stroke-width="0.9"/>
<line x1="542.56" y1="273.30" x2="542.56" y2="233.28" stroke="#a4a4a4" stroke-width="0.9"/>
<line x1="544.22" y1="273.30" x2="544.22" y2="265.82" stroke="#a4a4a4" stroke-width="0.9"/>
<line x1="545.88" y1="273.30" x2="545.88" y2="267.69" stroke="#a4a4a4" stroke-width="0.9"/>
<line x1="569.18" y1="273.30" x2="569.18" y2="264.88" stroke="#a4a4a4" stroke-width="0.9"/>
<line x1="572.51" y1="273.30" x2="572.51" y2="244.31" stroke="#a4a4a4" stroke-width="0.9"/>
<line x1="574.17" y1="273.30" x2="574.17" y2="266.29" stroke="#a4a4a4" stroke-width="0.9"/>
<line x1="575.84" y1="273.30" x2="575.84" y2="268.62" stroke="#a4a4a4" stroke-width="0.9"/>
<line x1="605.79" y1="273.30" x2="605.79" y2="265.82" stroke="#a4a4a4" stroke-width="0.9"/>
<line x1="617.10" y1="273.30" x2="617.10" y2="270.50" stroke="#a4a4a4" stroke-width="0.9"/>
<line x1="629.25" y1="273.30" x2="629.25" y2="267.69" stroke="#a4a4a4" stroke-width="0.9"/>
<line x1="632.58" y1="273.30" x2="632.58" y2="248.06" stroke="#a4a4a4" stroke-width="0.9"/>
<line x1="634.24" y1="273.30" x2="634.24" y2="267.69" stroke="#a4a4a4" stroke-width="0.9"/>
<line x1="659.04" y1="273.30" x2="659.04" y2="242.45" stroke="#a4a4a4" stroke-width="0.9"/>
<line x1="662.53" y1="273.30" x2="662.53" y2="180.74" stroke="#a4a4a4" stroke-width="0.9"/>
<line x1="664.20" y1="273.30" x2="664.20" y2="248.06" stroke="#a4a4a4" stroke-width="0.9"/>
<line x1="665.86" y1="273.30" x2="665.86" y2="265.82" stroke="#a4a4a4" stroke-width="0.9"/>
<line x1="689.16" y1="273.30" x2="689.16" y2="253.67" stroke="#a4a4a4" stroke-width="0.9"/>
<line x1="692.48" y1="273.30" x2="692.48" y2="207.85" stroke="#a4a4a4" stroke-width="0.9"/>
<line x1="694.15" y1="273.30" x2="694.15" y2="258.34" stroke="#a4a4a4" stroke-width="0.9"/>
<line x1="705.80" y1="273.30" x2="705.80" y2="266.75" stroke="#a4a4a4" stroke-width="0.9"/>
<line x1="709.12" y1="273.30" x2="709.12" y2="251.80" stroke="#a4a4a4" stroke-width="0.9"/>
<line x1="710.79" y1="273.30" x2="710.79" y2="267.69" stroke="#a4a4a4" stroke-width="0.9"/>
<line x1="739.08" y1="273.30" x2="739.08" y2="272.37" stroke="#a4a4a4" stroke-width="0.9"/>
<line x1="765.70" y1="273.30" x2="765.70" y2="265.82" stroke="#a4a4a4" stroke-width="0.9"/>
<line x1="769.03" y1="273.30" x2="769.03" y2="191.02" stroke="#a4a4a4" stroke-width="0.9"/>
<line x1="770.69" y1="273.30" x2="770.69" y2="248.99" stroke="#a4a4a4" stroke-width="0.9"/>
<line x1="772.36" y1="273.30" x2="772.36" y2="268.62" stroke="#a4a4a4" stroke-width="0.9"/>
<line x1="742.89" y1="273.30" x2="742.89" y2="269.73" stroke="#a4a4a4" stroke-width="0.9"/>
<line x1="729.67" y1="273.30" x2="729.67" y2="272.56" stroke="#a4a4a4" stroke-width="0.9"/>
<line x1="607.20" y1="273.30" x2="607.20" y2="271.45" stroke="#a4a4a4" stroke-width="0.9"/>
<line x1="581.95" y1="273.30" x2="581.95" y2="272.41" stroke="#a4a4a4" stroke-width="0.9"/>
<line x1="444.11" y1="273.30" x2="444.11" y2="271.38" stroke="#a4a4a4" stroke-width="0.9"/>
<line x1="455.95" y1="273.30" x2="455.95" y2="271.34" stroke="#a4a4a4" stroke-width="0.9"/>
<line x1="375.94" y1="273.30" x2="375.94" y2="272.55" stroke="#a4a4a4" stroke-width="0.9"/>
<line x1="655.30" y1="273.30" x2="655.30" y2="271.45" stroke="#a4a4a4" stroke-width="0.9"/>
<line x1="574.83" y1="273.30" x2="574.83" y2="270.43" stroke="#a4a4a4" stroke-width="0.9"/>
<line x1="512.20" y1="273.30" x2="512.20" y2="272.64" stroke="#a4a4a4" stroke-width="0.9"/>
<line x1="685.10" y1="273.30" x2="685.10" y2="270.90" stroke="#a4a4a4" stroke-width="0.9"/>
<line x1="634.06" y1="273.30" x2="634.06" y2="270.80" stroke="#a4a4a4" stroke-width="0.9"/>
<line x1="761.59" y1="273.30" x2="761.59" y2="271.65" stroke="#a4a4a4" stroke-width="0.9"/>
<line x1="675.59" y1="273.30" x2="675.59" y2="271.63" stroke="#a4a4a4" stroke-width="0.9"/>
<line x1="599.05" y1="273.30" x2="599.05" y2="270.67" stroke="#a4a4a4" stroke-width="0.9"/>
<line x1="494.01" y1="273.30" x2="494.01" y2="272.55" stroke="#a4a4a4" stroke-width="0.9"/>
<line x1="559.11" y1="273.30" x2="559.11" y2="270.48" stroke="#a4a4a4" stroke-width="0.9"/>
<line x1="606.62" y1="273.30" x2="606.62" y2="271.37" stroke="#a4a4a4" stroke-width="0.9"/>
<line x1="627.72" y1="273.30" x2="627.72" y2="272.24" stroke="#a4a4a4" stroke-width="0.9"/>
<line x1="438.63" y1="273.30" x2="438.63" y2="271.77" stroke="#a4a4a4" stroke-width="0.9"/>
<line x1="698.46" y1="273.30" x2="698.46" y2="272.19" stroke="#a4a4a4" stroke-width="0.9"/>
<line x1="412.44" y1="273.30" x2="412.44" y2="272.51" stroke="#a4a4a4" stroke-width="0.9"/>
<line x1="381.71" y1="273.30" x2="381.71" y2="271.93" stroke="#a4a4a4" stroke-width="0.9"/>
<line x1="599.37" y1="273.30" x2="599.37" y2="270.15" stroke="#a4a4a4" stroke-width="0.9"/>
<line x1="500.70" y1="273.30" x2="500.70" y2="271.62" stroke="#a4a4a4" stroke-width="0.9"/>
<line x1="483.45" y1="273.30" x2="483.45" y2="271.84" stroke="#a4a4a4" stroke-width="0.9"/>
<line x1="682.84" y1="273.30" x2="682.84" y2="271.04" stroke="#a4a4a4" stroke-width="0.9"/>
<line x1="471.19" y1="273.30" x2="471.19" y2="272.48" stroke="#a4a4a4" stroke-width="0.9"/>
<line x1="685.38" y1="273.30" x2="685.38" y2="270.52" stroke="#a4a4a4" stroke-width="0.9"/>
<line x1="703.63" y1="273.30" x2="703.63" y2="272.05" stroke="#a4a4a4" stroke-width="0.9"/>
<line x1="588.22" y1="273.30" x2="588.22" y2="269.83" stroke="#a4a4a4" stroke-width="0.9"/>
<line x1="607.47" y1="273.30" x2="607.47" y2="269.74" stroke="#a4a4a4" stroke-width="0.9"/>
<line x1="434.03" y1="273.30" x2="434.03" y2="269.64" stroke="#a4a4a4" stroke-width="0.9"/>
<line x1="388.64" y1="273.30" x2="388.64" y2="271.47" stroke="#a4a4a4" stroke-width="0.9"/>
<line x1="375.36" y1="273.30" x2="375.36" y2="270.18" stroke="#a4a4a4" stroke-width="0.9"/>
<line x1="646.00" y1="273.30" x2="646.00" y2="269.65" stroke="#a4a4a4" stroke-width="0.9"/>
<line x1="694.01" y1="273.30" x2="694.01" y2="269.73" stroke="#a4a4a4" stroke-width="0.9"/>
<line x1="585.41" y1="273.30" x2="585.41" y2="269.60" stroke="#a4a4a4" stroke-width="0.9"/>
<line x1="671.20" y1="273.30" x2="671.20" y2="271.70" stroke="#a4a4a4" stroke-width="0.9"/>
<line x1="763.08" y1="273.30" x2="763.08" y2="271.60" stroke="#a4a4a4" stroke-width="0.9"/>
<line x1="444.65" y1="273.30" x2="444.65" y2="272.58" stroke="#a4a4a4" stroke-width="0.9"/>
<line x1="555.80" y1="273.30" x2="555.80" y2="272.19" stroke="#a4a4a4" stroke-width="0.9"/>
<line x1="746.44" y1="273.30" x2="746.44" y2="269.72" stroke="#a4a4a4" stroke-width="0.9"/>
<line x1="453.88" y1="273.30" x2="453.88" y2="272.49" stroke="#a4a4a4" stroke-width="0.9"/>
<line x1="581.49" y1="273.30" x2="581.49" y2="272.28" stroke="#a4a4a4" stroke-width="0.9"/>
<line x1="587.47" y1="273.30" x2="587.47" y2="270.17" stroke="#a4a4a4" stroke-width="0.9"/>
<line x1="469.01" y1="273.30" x2="469.01" y2="271.45" stroke="#a4a4a4" stroke-width="0.9"/>
<line x1="733.11" y1="273.30" x2="733.11" y2="271.38" stroke="#a4a4a4" stroke-width="0.9"/>
<line x1="505.58" y1="273.30" x2="505.58" y2="269.91" stroke="#a4a4a4" stroke-width="0.9"/>
<line x1="697.59" y1="273.30" x2="697.59" y2="269.90" stroke="#a4a4a4" stroke-width="0.9"/>
<line x1="646.22" y1="273.30" x2="646.22" y2="271.48" stroke="#a4a4a4" stroke-width="0.9"/>
<line x1="648.37" y1="273.30" x2="648.37" y2="270.12" stroke="#a4a4a4" stroke-width="0.9"/>
<line x1="626.56" y1="273.30" x2="626.56" y2="272.05" stroke="#a4a4a4" stroke-width="0.9"/>
<line x1="486.21" y1="273.30" x2="486.21" y2="271.49" stroke="#a4a4a4" stroke-width="0.9"/>
<line x1="680.43" y1="273.30" x2="680.43" y2="271.01" stroke="#a4a4a4" stroke-width="0.9"/>
<line x1="590.04" y1="273.30" x2="590.04" y2="270.13" stroke="#a4a4a4" stroke-width="0.9"/>
<line x1="410.05" y1="273.30" x2="410.05" y2="270.77" stroke="#a4a4a4" stroke-width="0.9"/>
<line x1="501.39" y1="273.30" x2="501.39" y2="271.00" stroke="#a4a4a4" stroke-width="0.9"/>
<line x1="706.40" y1="273.30" x2="706.40" y2="272.02" stroke="#a4a4a4" stroke-width="0.9"/>
<line x1="753.75" y1="273.30" x2="753.75" y2="272.58" stroke="#a4a4a4" stroke-width="0.9"/>
<line x1="594.96" y1="273.30" x2="594.96" y2="271.06" stroke="#a4a4a4" stroke-width="0.9"/>
<line x1="461.68" y1="273.30" x2="461.68" y2="271.00" stroke="#a4a4a4" stroke-width="0.9"/>
<line x1="557.75" y1="273.30" x2="557.75" y2="271.36" stroke="#a4a4a4" stroke-width="0.9"/>
<line x1="658.71" y1="273.30" x2="658.71" y2="272.82" stroke="#a4a4a4" stroke-width="0.9"/>
<line x1="519.61" y1="273.30" x2="519.61" y2="270.26" stroke="#a4a4a4" stroke-width="0.9"/>
<line x1="423.67" y1="273.30" x2="423.67" y2="269.99" stroke="#a4a4a4" stroke-width="0.9"/>
<line x1="448.84" y1="273.30" x2="448.84" y2="270.60" stroke="#a4a4a4" stroke-width="0.9"/>
<line x1="436.44" y1="273.30" x2="436.44" y2="271.36" stroke="#a4a4a4" stroke-width="0.9"/>
<line x1="538.11" y1="273.30" x2="538.11" y2="272.56" stroke="#a4a4a4" stroke-width="0.9"/>
<line x1="651.06" y1="273.30" x2="651.06" y2="271.26" stroke="#a4a4a4" stroke-width="0.9"/>
<line x1="646.74" y1="273.30" x2="646.74" y2="271.07" stroke="#a4a4a4" stroke-width="0.9"/>
<line x1="592.46" y1="273.30" x2="592.46" y2="271.11" stroke="#a4a4a4" stroke-width="0.9"/>
<line x1="487.24" y1="273.30" x2="487.24" y2="269.89" stroke="#a4a4a4" stroke-width="0.9"/>
<line x1="401.06" y1="273.30" x2="401.06" y2="269.96" stroke="#a4a4a4" stroke-width="0.9"/>
<line x1="717.86" y1="273.30" x2="717.86" y2="271.20" stroke="#a4a4a4" stroke-width="0.9"/>
<line x1="682.59" y1="273.30" x2="682.59" y2="270.63" stroke="#a4a4a4" stroke-width="0.9"/>
<line x1="612.52" y1="273.30" x2="612.52" y2="271.88" stroke="#a4a4a4" stroke-width="0.9"/>
<line x1="496.15" y1="273.30" x2="496.15" y2="271.69" stroke="#a4a4a4" stroke-width="0.9"/>
<line x1="489.03" y1="273.30" x2="489.03" y2="269.69" stroke="#a4a4a4" stroke-width="0.9"/>
<line x1="504.97" y1="273.30" x2="504.97" y2="271.56" stroke="#a4a4a4" stroke-width="0.9"/>
<line x1="536.89" y1="273.30" x2="536.89" y2="270.16" stroke="#a4a4a4" stroke-width="0.9"/>
<line x1="560.61" y1="273.30" x2="560.61" y2="271.02" stroke="#a4a4a4" stroke-width="0.9"/>
<line x1="469.99" y1="273.30" x2="469.99" y2="271.92" stroke="#a4a4a4" stroke-width="0.9"/>
<line x1="402.16" y1="273.30" x2="402.16" y2="272.12" stroke="#a4a4a4" stroke-width="0.9"/>
<line x1="473.42" y1="273.30" x2="473.42" y2="270.04" stroke="#a4a4a4" stroke-width="0.9"/>
<line x1="570.69" y1="273.30" x2="570.69" y2="272.47" stroke="#a4a4a4" stroke-width="0.9"/>
<line x1="554.48" y1="273.30" x2="554.48" y2="272.44" stroke="#a4a4a4" stroke-width="0.9"/>
<line x1="596.60" y1="273.30" x2="596.60" y2="271.39" stroke="#a4a4a4" stroke-width="0.9"/>
<line x1="715.75" y1="273.30" x2="715.75" y2="271.98" stroke="#a4a4a4" stroke-width="0.9"/>
<line x1="712.72" y1="273.30" x2="712.72" y2="272.02" stroke="#a4a4a4" stroke-width="0.9"/>
<line x1="766.43" y1="273.30" x2="766.43" y2="270.76" stroke="#a4a4a4" stroke-width="0.9"/>
<line x1="383.24" y1="273.30" x2="383.24" y2="270.19" stroke="#a4a4a4" stroke-width="0.9"/>
<line x1="478.22" y1="273.30" x2="478.22" y2="271.65" stroke="#a4a4a4" stroke-width="0.9"/>
<line x1="425.60" y1="273.30" x2="425.60" y2="270.09" stroke="#a4a4a4" stroke-width="0.9"/>
<line x1="402.68" y1="273.30" x2="402.68" y2="270.42" stroke="#a4a4a4" stroke-width="0.9"/>
<line x1="527.17" y1="273.30" x2="527.17" y2="270.61" stroke="#a4a4a4" stroke-width="0.9"/>
<line x1="485.32" y1="273.30" x2="485.32" y2="272.58" stroke="#a4a4a4" stroke-width="0.9"/>
<line x1="738.94" y1="273.30" x2="738.94" y2="270.69" stroke="#a4a4a4" stroke-width="0.9"/>
<line x1="435.02" y1="273.30" x2="435.02" y2="269.64" stroke="#a4a4a4" stroke-width="0.9"/>
<line x1="737.57" y1="273.30" x2="737.57" y2="272.23" stroke="#a4a4a4" stroke-width="0.9"/>
<line x1="373.63" y1="273.30" x2="373.63" y2="270.83" stroke="#a4a4a4" stroke-width="0.9"/>
<line x1="422.57" y1="273.30" x2="422.57" y2="270.44" stroke="#a4a4a4" stroke-width="0.9"/>
<line x1="556.99" y1="273.30" x2="556.99" y2="270.51" stroke="#a4a4a4" stroke-width="0.9"/>
<line x1="598.13" y1="273.30" x2="598.13" y2="270.31" stroke="#a4a4a4" stroke-width="0.9"/>
<line x1="700.80" y1="273.30" x2="700.80" y2="270.86" stroke="#a4a4a4" stroke-width="0.9"/>
<line x1="606.94" y1="273.30" x2="606.94" y2="271.76" stroke="#a4a4a4" stroke-width="0.9"/>
<line x1="420.51" y1="273.30" x2="420.51" y2="272.53" stroke="#a4a4a4" stroke-width="0.9"/>
<line x1="715.20" y1="273.30" x2="715.20" y2="272.16" stroke="#a4a4a4" stroke-width="0.9"/>
<line x1="539.74" y1="273.30" x2="539.74" y2="271.80" stroke="#a4a4a4" stroke-width="0.9"/>
<line x1="618.45" y1="273.30" x2="618.45" y2="271.09" stroke="#a4a4a4" stroke-width="0.9"/>
<text transform="translate(389.60,268.80) scale(1.075,1)" font-size="9.4" fill="#2a2a2a" text-anchor="middle" stroke="#2a2a2a" stroke-width="0.2">179.1</text>
<text transform="translate(416.50,265.40) scale(1.075,1)" font-size="9.4" fill="#2a2a2a" text-anchor="middle" stroke="#2a2a2a" stroke-width="0.2">195.2</text>
<text transform="translate(432.55,248.00) scale(1.075,1)" font-size="9.4" fill="#2a2a2a" text-anchor="middle" stroke="#2a2a2a" stroke-width="0.2">205.2</text>
<text transform="translate(452.30,263.80) scale(1.075,1)" font-size="9.4" fill="#2a2a2a" text-anchor="middle" stroke="#2a2a2a" stroke-width="0.2">217.2</text>
<text transform="translate(479.35,244.10) scale(1.075,1)" font-size="9.4" fill="#2a2a2a" text-anchor="middle" stroke="#2a2a2a" stroke-width="0.2">233.2</text>
<text transform="translate(496.25,220.00) scale(1.020,1)" font-size="7.9" fill="#2a2a2a" text-anchor="middle" stroke="#2a2a2a" stroke-width="0.2">241.2</text>
<text transform="translate(509.35,259.20) scale(1.075,1)" font-size="9.4" fill="#2a2a2a" text-anchor="middle" stroke="#2a2a2a" stroke-width="0.2">251.2</text>
<text transform="translate(542.35,231.60) scale(1.075,1)" font-size="9.4" fill="#2a2a2a" text-anchor="middle" stroke="#2a2a2a" stroke-width="0.2">271.2</text>
<text transform="translate(556.65,255.70) scale(1.075,1)" font-size="9.4" fill="#2a2a2a" text-anchor="middle" stroke="#2a2a2a" stroke-width="0.2">272.2</text>
<text transform="translate(572.40,242.30) scale(1.075,1)" font-size="9.4" fill="#2a2a2a" text-anchor="middle" stroke="#2a2a2a" stroke-width="0.2">289.2</text>
<text transform="translate(586.65,257.80) scale(1.075,1)" font-size="9.4" fill="#2a2a2a" text-anchor="middle" stroke="#2a2a2a" stroke-width="0.2">290.2</text>
<text transform="translate(618.45,258.70) scale(1.075,1)" font-size="9.4" fill="#2a2a2a" text-anchor="middle" stroke="#2a2a2a" stroke-width="0.2">309.2</text>
<text transform="translate(619.40,239.80) scale(1.075,1)" font-size="9.4" fill="#2a2a2a" text-anchor="middle" stroke="#2a2a2a" stroke-width="0.2">325.3</text>
<text transform="translate(645.65,235.00) scale(1.075,1)" font-size="9.4" fill="#2a2a2a" text-anchor="middle" stroke="#2a2a2a" stroke-width="0.2">341.2</text>
<text transform="translate(662.35,177.00) scale(1.075,1)" font-size="9.4" fill="#2a2a2a" text-anchor="middle" stroke="#2a2a2a" stroke-width="0.2">343.3</text>
<text transform="translate(677.10,238.90) scale(1.075,1)" font-size="9.4" fill="#2a2a2a" text-anchor="middle" stroke="#2a2a2a" stroke-width="0.2">344.3</text>
<text transform="translate(692.15,205.90) scale(1.075,1)" font-size="9.4" fill="#2a2a2a" text-anchor="middle" stroke="#2a2a2a" stroke-width="0.2">361.3</text>
<text transform="translate(708.70,250.10) scale(1.075,1)" font-size="9.4" fill="#2a2a2a" text-anchor="middle" stroke="#2a2a2a" stroke-width="0.2">371.3</text>
<text transform="translate(725.55,262.70) scale(1.075,1)" font-size="9.4" fill="#2a2a2a" text-anchor="middle" stroke="#2a2a2a" stroke-width="0.2">389.3</text>
<text transform="translate(752.35,257.00) scale(1.075,1)" font-size="9.4" fill="#2a2a2a" text-anchor="middle" stroke="#2a2a2a" stroke-width="0.2">405.3</text>
<text transform="translate(768.55,189.20) scale(1.075,1)" font-size="9.4" fill="#2a2a2a" text-anchor="middle" stroke="#2a2a2a" stroke-width="0.2">407.3</text>
<text transform="translate(783.00,239.40) scale(1.075,1)" font-size="9.4" fill="#2a2a2a" text-anchor="middle" stroke="#2a2a2a" stroke-width="0.2">408.3</text>
<text transform="translate(784.55,261.60) scale(1.075,1)" font-size="9.4" fill="#2a2a2a" text-anchor="middle" stroke="#2a2a2a" stroke-width="0.2">409.3</text>
<text x="419.90" y="231.00" font-size="5.6" fill="#b0b0b0" textLength="23.00" lengthAdjust="spacingAndGlyphs">[C<tspan font-size="3.9" dy="1">14</tspan><tspan dy="-1"></tspan>H<tspan font-size="3.9" dy="1">21</tspan><tspan dy="-1"></tspan>O]</text>
<text x="421.40" y="239.10" font-size="5.6" fill="#b0b0b0" textLength="21.50" lengthAdjust="spacingAndGlyphs">+2.9ppm</text>
<text x="466.50" y="226.30" font-size="5.6" fill="#b0b0b0" textLength="23.70" lengthAdjust="spacingAndGlyphs">[C<tspan font-size="3.9" dy="1">16</tspan><tspan dy="-1"></tspan>H<tspan font-size="3.9" dy="1">25</tspan><tspan dy="-1"></tspan>O]</text>
<text x="468.00" y="234.40" font-size="5.6" fill="#b0b0b0" textLength="19.90" lengthAdjust="spacingAndGlyphs">-5.1ppm</text>
<text x="484.00" y="203.80" font-size="5.6" fill="#b0b0b0" textLength="23.00" lengthAdjust="spacingAndGlyphs">[C<tspan font-size="3.9" dy="1">16</tspan><tspan dy="-1"></tspan>H<tspan font-size="3.9" dy="1">23</tspan><tspan dy="-1"></tspan>O]</text>
<text x="486.30" y="212.20" font-size="5.6" fill="#b0b0b0" textLength="20.70" lengthAdjust="spacingAndGlyphs">-5.4ppm</text>
<text x="495.80" y="242.60" font-size="5.6" fill="#b0b0b0" textLength="24.60" lengthAdjust="spacingAndGlyphs">[C<tspan font-size="3.9" dy="1">16</tspan><tspan dy="-1"></tspan>H<tspan font-size="3.9" dy="1">17</tspan><tspan dy="-1"></tspan>O<tspan font-size="3.9" dy="1">2</tspan><tspan dy="-1"></tspan>]</text>
<text x="499.90" y="250.80" font-size="5.6" fill="#b0b0b0" textLength="18.00" lengthAdjust="spacingAndGlyphs">-2.4ppm</text>
<text x="529.90" y="214.10" font-size="5.6" fill="#b0b0b0" textLength="23.00" lengthAdjust="spacingAndGlyphs">[C<tspan font-size="3.9" dy="1">18</tspan><tspan dy="-1"></tspan>H<tspan font-size="3.9" dy="1">23</tspan><tspan dy="-1"></tspan>O]</text>
<text x="531.50" y="222.50" font-size="5.6" fill="#b0b0b0" textLength="21.40" lengthAdjust="spacingAndGlyphs">+1.1ppm</text>
<text x="559.00" y="224.80" font-size="5.6" fill="#b0b0b0" textLength="24.50" lengthAdjust="spacingAndGlyphs">[C<tspan font-size="3.9" dy="1">18</tspan><tspan dy="-1"></tspan>H<tspan font-size="3.9" dy="1">25</tspan><tspan dy="-1"></tspan>O<tspan font-size="3.9" dy="1">2</tspan><tspan dy="-1"></tspan>]</text>
<text x="561.30" y="233.70" font-size="5.6" fill="#b0b0b0" textLength="21.40" lengthAdjust="spacingAndGlyphs">-1.7ppm</text>
<text x="599.60" y="187.40" font-size="5.6" fill="#b0b0b0" textLength="38.70" lengthAdjust="spacingAndGlyphs">[M-H-3H<tspan font-size="3.9" dy="1">2</tspan><tspan dy="-1"></tspan>O-CO]</text>
<text x="609.60" y="196.70" font-size="5.6" fill="#b0b0b0" textLength="19.90" lengthAdjust="spacingAndGlyphs">0.0ppm</text>
<text x="579.10" y="208.30" font-size="5.6" fill="#b0b0b0" textLength="50.20" lengthAdjust="spacingAndGlyphs">[M-H-3H<tspan font-size="3.9" dy="1">2</tspan><tspan dy="-1"></tspan>O-CO-CH<tspan font-size="3.9" dy="1">4</tspan><tspan dy="-1"></tspan>]</text>
<text x="594.00" y="216.20" font-size="5.6" fill="#b0b0b0" textLength="21.80" lengthAdjust="spacingAndGlyphs">+2.3ppm</text>
<text x="622.60" y="217.80" font-size="5.6" fill="#b0b0b0" textLength="45.40" lengthAdjust="spacingAndGlyphs">[M-H-2H<tspan font-size="3.9" dy="1">2</tspan><tspan dy="-1"></tspan>O-CO-H<tspan font-size="3.9" dy="1">2</tspan><tspan dy="-1"></tspan>]</text>
<text x="636.80" y="226.40" font-size="5.6" fill="#b0b0b0" textLength="20.40" lengthAdjust="spacingAndGlyphs">-4.1ppm</text>
<text x="641.90" y="159.20" font-size="5.6" fill="#b0b0b0" textLength="39.10" lengthAdjust="spacingAndGlyphs">[M-H-2H<tspan font-size="3.9" dy="1">2</tspan><tspan dy="-1"></tspan>O-CO]</text>
<text x="650.40" y="168.10" font-size="5.6" fill="#b0b0b0" textLength="21.30" lengthAdjust="spacingAndGlyphs">-0.9ppm</text>
<text x="673.40" y="188.10" font-size="5.6" fill="#b0b0b0" textLength="35.60" lengthAdjust="spacingAndGlyphs">[M-H-H<tspan font-size="3.9" dy="1">2</tspan><tspan dy="-1"></tspan>O-CO]</text>
<text x="681.90" y="196.50" font-size="5.6" fill="#b0b0b0" textLength="21.20" lengthAdjust="spacingAndGlyphs">-0.8ppm</text>
<text x="693.00" y="233.10" font-size="5.6" fill="#b0b0b0" textLength="29.70" lengthAdjust="spacingAndGlyphs">[M-H-2H<tspan font-size="3.9" dy="1">2</tspan><tspan dy="-1"></tspan>O]</text>
<text x="698.00" y="242.00" font-size="5.6" fill="#b0b0b0" textLength="21.30" lengthAdjust="spacingAndGlyphs">+0.5ppm</text>
<text x="732.10" y="233.10" font-size="5.6" fill="#b0b0b0" textLength="26.30" lengthAdjust="spacingAndGlyphs">[M-H-H<tspan font-size="3.9" dy="1">2</tspan><tspan dy="-1"></tspan>O]</text>
<text x="735.50" y="242.00" font-size="5.6" fill="#b0b0b0" textLength="20.40" lengthAdjust="spacingAndGlyphs">-1.0ppm</text>
<text x="759.60" y="171.50" font-size="5.6" fill="#b0b0b0" textLength="15.50" lengthAdjust="spacingAndGlyphs">[M-H]</text>
<text x="757.10" y="179.50" font-size="5.6" fill="#b0b0b0" textLength="21.50" lengthAdjust="spacingAndGlyphs">+1.0ppm</text>
<polyline points="550.70,258.00 543.60,264.40" fill="none" stroke="#a8a8a8" stroke-width="0.7" stroke-linejoin="round"/>
<polyline points="580.70,260.10 574.00,266.60" fill="none" stroke="#a8a8a8" stroke-width="0.7" stroke-linejoin="round"/>
<polyline points="612.10,261.20 605.50,266.50 605.50,273.00" fill="none" stroke="#a8a8a8" stroke-width="0.7" stroke-linejoin="round"/>
<polyline points="626.20,241.80 632.00,247.10 632.00,273.00" fill="none" stroke="#a8a8a8" stroke-width="0.7" stroke-linejoin="round"/>
<polyline points="652.70,236.50 658.60,242.70 658.60,273.00" fill="none" stroke="#a8a8a8" stroke-width="0.7" stroke-linejoin="round"/>
<polyline points="670.40,240.90 663.30,247.10" fill="none" stroke="#a8a8a8" stroke-width="0.7" stroke-linejoin="round"/>
<polyline points="732.10,264.90 739.00,272.50" fill="none" stroke="#a8a8a8" stroke-width="0.7" stroke-linejoin="round"/>
<polyline points="758.90,258.70 765.80,265.60 765.80,273.00" fill="none" stroke="#a8a8a8" stroke-width="0.7" stroke-linejoin="round"/>
<polyline points="777.20,241.90 770.40,248.80" fill="none" stroke="#a8a8a8" stroke-width="0.7" stroke-linejoin="round"/>
<polyline points="778.00,263.30 771.90,271.00" fill="none" stroke="#a8a8a8" stroke-width="0.7" stroke-linejoin="round"/>
<line x1="539.80" y1="177.50" x2="530.97" y2="182.60" stroke="#222" stroke-width="0.8"/>
<line x1="530.97" y1="182.60" x2="530.97" y2="192.80" stroke="#222" stroke-width="0.8"/>
<line x1="530.97" y1="192.80" x2="539.80" y2="197.90" stroke="#222" stroke-width="0.8"/>
<line x1="539.80" y1="197.90" x2="548.63" y2="192.80" stroke="#222" stroke-width="0.8"/>
<line x1="548.63" y1="192.80" x2="548.63" y2="182.60" stroke="#222" stroke-width="0.8"/>
<line x1="548.63" y1="182.60" x2="539.80" y2="177.50" stroke="#222" stroke-width="0.8"/>
<line x1="548.63" y1="192.80" x2="557.47" y2="197.90" stroke="#222" stroke-width="0.8"/>
<line x1="557.47" y1="197.90" x2="566.30" y2="192.80" stroke="#222" stroke-width="0.8"/>
<line x1="566.30" y1="192.80" x2="566.30" y2="182.60" stroke="#222" stroke-width="0.8"/>
<line x1="566.30" y1="182.60" x2="557.47" y2="177.50" stroke="#222" stroke-width="0.8"/>
<line x1="557.47" y1="177.50" x2="548.63" y2="182.60" stroke="#222" stroke-width="0.8"/>
<line x1="557.47" y1="177.50" x2="557.47" y2="167.30" stroke="#222" stroke-width="0.8"/>
<line x1="557.47" y1="167.30" x2="566.30" y2="162.20" stroke="#222" stroke-width="0.8"/>
<line x1="566.30" y1="162.20" x2="575.13" y2="167.30" stroke="#222" stroke-width="0.8"/>
<line x1="575.13" y1="167.30" x2="575.13" y2="177.50" stroke="#222" stroke-width="0.8"/>
<line x1="575.13" y1="177.50" x2="566.30" y2="182.60" stroke="#222" stroke-width="0.8"/>
<line x1="575.13" y1="167.30" x2="584.33" y2="162.20" stroke="#222" stroke-width="0.8"/>
<line x1="584.33" y1="162.20" x2="593.03" y2="167.90" stroke="#222" stroke-width="0.8"/>
<line x1="593.03" y1="167.90" x2="593.03" y2="177.10" stroke="#222" stroke-width="0.8"/>
<line x1="593.03" y1="177.10" x2="575.13" y2="177.50" stroke="#222" stroke-width="0.8"/>
<polygon points="548.63,182.60 549.63,173.10 547.63,173.10" fill="#222"/>
<polygon points="575.13,167.30 576.13,157.80 574.13,157.80" fill="#222"/>
<polygon points="548.63,192.80 547.63,199.30 549.63,199.30" fill="#222"/>
<text x="548.63" y="205.10" font-size="6.4" fill="#222" text-anchor="middle" font-weight="bold">H</text>
<line x1="557.75" y1="179.01" x2="557.19" y2="179.01" stroke="#222" stroke-width="0.6"/>
<line x1="558.03" y1="180.52" x2="556.91" y2="180.52" stroke="#222" stroke-width="0.6"/>
<line x1="558.30" y1="182.03" x2="556.63" y2="182.03" stroke="#222" stroke-width="0.6"/>
<line x1="558.58" y1="183.55" x2="556.35" y2="183.55" stroke="#222" stroke-width="0.6"/>
<text x="557.47" y="190.30" font-size="6.4" fill="#222" text-anchor="middle" font-weight="bold">H</text>
<polygon points="566.30,182.60 567.30,176.10 565.30,176.10" fill="#222"/>
<text x="566.30" y="174.90" font-size="6.4" fill="#222" text-anchor="middle" font-weight="bold">H</text>
<line x1="575.41" y1="179.01" x2="574.85" y2="179.01" stroke="#222" stroke-width="0.6"/>
<line x1="575.69" y1="180.52" x2="574.58" y2="180.52" stroke="#222" stroke-width="0.6"/>
<line x1="575.97" y1="182.03" x2="574.30" y2="182.03" stroke="#222" stroke-width="0.6"/>
<line x1="576.25" y1="183.55" x2="574.02" y2="183.55" stroke="#222" stroke-width="0.6"/>
<text x="575.13" y="190.30" font-size="6.4" fill="#222" text-anchor="middle" font-weight="bold">H</text>
<polygon points="530.97,192.80 524.41,195.35 525.52,197.25" fill="#222"/>
<text x="519.17" y="200.10" font-size="6.4" fill="#222" text-anchor="middle" font-weight="bold">HO</text>
<polygon points="566.30,192.80 571.75,197.25 572.85,195.35" fill="#222"/>
<text x="578.10" y="200.10" font-size="6.4" fill="#222" text-anchor="middle" font-weight="bold">OH</text>
<line x1="566.02" y1="160.69" x2="566.58" y2="160.69" stroke="#222" stroke-width="0.6"/>
<line x1="565.74" y1="159.18" x2="566.86" y2="159.18" stroke="#222" stroke-width="0.6"/>
<line x1="565.46" y1="157.67" x2="567.14" y2="157.67" stroke="#222" stroke-width="0.6"/>
<line x1="565.18" y1="156.15" x2="567.42" y2="156.15" stroke="#222" stroke-width="0.6"/>
<text x="568.70" y="154.30" font-size="6.4" fill="#222" text-anchor="middle" font-weight="bold">OH</text>
<line x1="584.33" y1="162.20" x2="584.33" y2="151.00" stroke="#222" stroke-width="0.8"/>
<line x1="585.59" y1="161.14" x2="585.87" y2="161.63" stroke="#222" stroke-width="0.6"/>
<line x1="586.84" y1="160.09" x2="587.41" y2="161.05" stroke="#222" stroke-width="0.6"/>
<line x1="588.10" y1="159.03" x2="588.94" y2="160.48" stroke="#222" stroke-width="0.6"/>
<line x1="589.35" y1="157.98" x2="590.48" y2="159.91" stroke="#222" stroke-width="0.6"/>
<text x="593.33" y="160.30" font-size="6.4" fill="#222" text-anchor="middle" font-weight="bold">H</text>
<polygon points="584.33,151.00 585.33,145.00 583.33,145.00" fill="#222"/>
<text x="583.83" y="144.30" font-size="6.4" fill="#222" text-anchor="middle" font-weight="bold">H</text>
<line x1="582.24" y1="150.32" x2="582.48" y2="149.82" stroke="#222" stroke-width="0.6"/>
<line x1="580.14" y1="149.64" x2="580.62" y2="148.63" stroke="#222" stroke-width="0.6"/>
<line x1="578.05" y1="148.97" x2="578.76" y2="147.45" stroke="#222" stroke-width="0.6"/>
<line x1="575.95" y1="148.29" x2="576.90" y2="146.27" stroke="#222" stroke-width="0.6"/>
<line x1="584.33" y1="151.00" x2="592.53" y2="146.90" stroke="#222" stroke-width="0.8"/>
<line x1="592.53" y1="146.90" x2="601.63" y2="152.00" stroke="#222" stroke-width="0.8"/>
<line x1="601.63" y1="152.00" x2="609.83" y2="146.90" stroke="#222" stroke-width="0.8"/>
<line x1="608.83" y1="146.90" x2="608.83" y2="139.50" stroke="#222" stroke-width="0.7"/>
<line x1="610.83" y1="146.90" x2="610.83" y2="139.50" stroke="#222" stroke-width="0.7"/>
<text x="610.03" y="139.00" font-size="6.2" fill="#222" text-anchor="middle" font-weight="bold">O</text>
<line x1="609.83" y1="146.90" x2="616.13" y2="150.70" stroke="#222" stroke-width="0.8"/>
<text x="621.63" y="154.60" font-size="6.4" fill="#222" text-anchor="middle" font-weight="bold">OH</text>
</svg>
</body></html>
